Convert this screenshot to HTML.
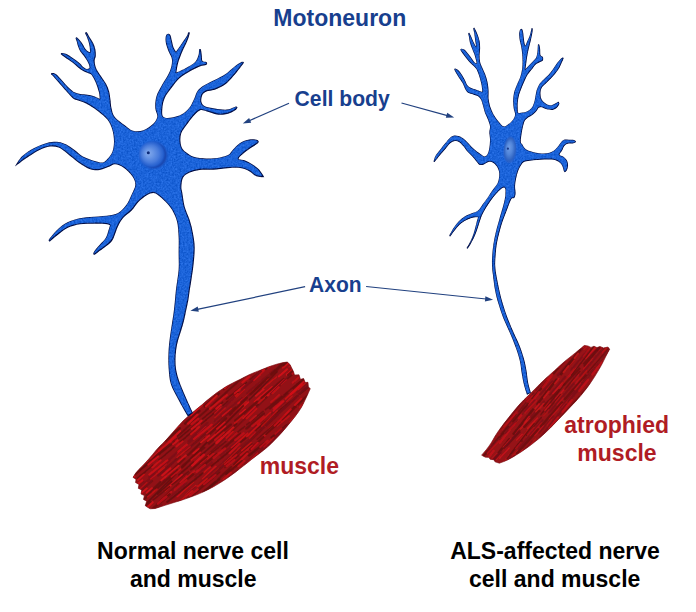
<!DOCTYPE html>
<html><head><meta charset="utf-8"><title>Motoneuron</title>
<style>html,body{margin:0;padding:0;background:#fff;}body{width:696px;height:612px;overflow:hidden;font-family:"Liberation Sans",sans-serif;}svg{display:block;}</style></head>
<body>
<svg width="696" height="612" viewBox="0 0 696 612" font-family="'Liberation Sans', sans-serif" font-weight="bold">
<defs>
<radialGradient id="nucD" cx="0.5" cy="0.5" r="0.5"><stop offset="0" stop-color="#1a4ab4"/><stop offset="0.78" stop-color="#1a4ab4"/><stop offset="1" stop-color="#1d60d4" stop-opacity="0"/></radialGradient>
<radialGradient id="nucL" cx="0.5" cy="0.5" r="0.5" fx="0.36" fy="0.46"><stop offset="0" stop-color="#86abee"/><stop offset="0.3" stop-color="#6a97e6"/><stop offset="0.65" stop-color="#467adb"/><stop offset="0.88" stop-color="#2a66d4" stop-opacity="0.85"/><stop offset="1" stop-color="#1d62d6" stop-opacity="0"/></radialGradient>
<radialGradient id="nucR" cx="0.5" cy="0.5" r="0.5" fx="0.4" fy="0.4"><stop offset="0" stop-color="#6f9ce6"/><stop offset="0.45" stop-color="#5286da"/><stop offset="0.82" stop-color="#2f63c2"/><stop offset="1" stop-color="#2a5fc6" stop-opacity="0.55"/></radialGradient>
<filter id="grain" x="-2%" y="-2%" width="104%" height="104%" color-interpolation-filters="sRGB"><feTurbulence type="fractalNoise" baseFrequency="0.55" numOctaves="3" seed="4" result="n"/><feColorMatrix in="n" type="matrix" values="1.6 0 0 0 -0.3  1.6 0 0 0 -0.3  1.6 0 0 0 -0.3  0 0 0 0 1" result="g"/><feComposite in="SourceGraphic" in2="g" operator="arithmetic" k1="0" k2="1" k3="0.13" k4="-0.065" result="m"/><feComposite in="m" in2="SourceGraphic" operator="in"/></filter>
<filter id="soft" x="-5%" y="-5%" width="110%" height="110%"><feGaussianBlur stdDeviation="0.55"/></filter>
</defs>
<rect width="696" height="612" fill="#ffffff"/>
<clipPath id="mcl"><path d="M133.0 477.3L135.7 473.1L139.0 469.2L142.6 465.7L146.1 462.0L149.4 458.3L152.7 454.4L155.9 450.5L159.3 446.8L162.8 443.2L166.4 439.6L169.8 435.8L173.1 432.0L176.4 428.2L179.7 424.4L183.2 420.8L186.9 417.4L190.7 414.0L194.6 410.8L198.5 407.6L202.4 404.4L206.2 401.1L210.1 397.9L214.1 394.8L218.1 391.8L222.3 389.0L226.6 386.3L231.0 383.9L235.5 381.6L240.1 379.4L244.5 377.1L249.0 374.8L253.7 372.8L258.4 370.9L263.1 369.1L267.7 367.2L272.5 365.5L277.3 364.0L282.2 362.8L287.2 362.0L290.0 364.5L293.3 371.2L294.6 375.0L299.0 374.8L300.4 379.3L303.6 378.6L305.3 382.5L308.0 382.3L308.3 387.0L310.3 388.6L308.2 393.3L306.0 398.0L303.8 402.8L301.4 407.4L298.6 411.7L295.5 415.9L292.3 420.0L289.0 424.0L285.7 428.0L282.3 431.9L278.8 435.8L275.2 439.5L271.6 443.2L267.8 446.8L263.8 450.1L259.7 453.3L255.5 456.4L251.4 459.6L247.4 462.8L243.3 466.0L239.2 469.2L235.1 472.4L230.9 475.5L226.7 478.5L222.3 481.4L218.0 484.1L213.5 486.7L208.9 489.2L204.2 491.5L199.5 493.6L194.7 495.5L189.8 497.3L184.9 499.1L180.0 500.7L175.0 502.2L170.0 503.8L165.1 505.3L160.1 506.9L155.2 508.5L150.0 508.8L145.3 505.8L146.6 501.2L143.6 499.5L144.3 495.5L141.0 494.0L141.8 490.0L138.3 488.3L139.0 484.5L135.5 482.5L136.0 479.5Z"/></clipPath>
<path d="M133.0 477.3L135.7 473.1L139.0 469.2L142.6 465.7L146.1 462.0L149.4 458.3L152.7 454.4L155.9 450.5L159.3 446.8L162.8 443.2L166.4 439.6L169.8 435.8L173.1 432.0L176.4 428.2L179.7 424.4L183.2 420.8L186.9 417.4L190.7 414.0L194.6 410.8L198.5 407.6L202.4 404.4L206.2 401.1L210.1 397.9L214.1 394.8L218.1 391.8L222.3 389.0L226.6 386.3L231.0 383.9L235.5 381.6L240.1 379.4L244.5 377.1L249.0 374.8L253.7 372.8L258.4 370.9L263.1 369.1L267.7 367.2L272.5 365.5L277.3 364.0L282.2 362.8L287.2 362.0L290.0 364.5L293.3 371.2L294.6 375.0L299.0 374.8L300.4 379.3L303.6 378.6L305.3 382.5L308.0 382.3L308.3 387.0L310.3 388.6L308.2 393.3L306.0 398.0L303.8 402.8L301.4 407.4L298.6 411.7L295.5 415.9L292.3 420.0L289.0 424.0L285.7 428.0L282.3 431.9L278.8 435.8L275.2 439.5L271.6 443.2L267.8 446.8L263.8 450.1L259.7 453.3L255.5 456.4L251.4 459.6L247.4 462.8L243.3 466.0L239.2 469.2L235.1 472.4L230.9 475.5L226.7 478.5L222.3 481.4L218.0 484.1L213.5 486.7L208.9 489.2L204.2 491.5L199.5 493.6L194.7 495.5L189.8 497.3L184.9 499.1L180.0 500.7L175.0 502.2L170.0 503.8L165.1 505.3L160.1 506.9L155.2 508.5L150.0 508.8L145.3 505.8L146.6 501.2L143.6 499.5L144.3 495.5L141.0 494.0L141.8 490.0L138.3 488.3L139.0 484.5L135.5 482.5L136.0 479.5Z" fill="#921116"/>
<g clip-path="url(#mcl)"><g fill="none" stroke-linecap="round" filter="url(#soft)">
<path d="M56.1 429.4 L227.9 264.4" stroke="#801216" stroke-width="1.8" opacity="0.9" stroke-dasharray="22 12" stroke-dashoffset="0"/>
<path d="M54.4 427.7 L230.8 267.6" stroke="#cc1115" stroke-width="2.3" stroke-dasharray="14 17 13 23" stroke-dashoffset="25" opacity="0.78"/>
<path d="M59.4 433.0 L229.4 266.2" stroke="#801216" stroke-width="2.4" opacity="0.9" stroke-dasharray="18 4" stroke-dashoffset="10"/>
<path d="M55.9 429.3 L234.7 271.9" stroke="#dc1418" stroke-width="2.1" stroke-dasharray="8 19 10 23" stroke-dashoffset="38" opacity="0.78"/>
<path d="M55.0 428.1 L239.2 277.1" stroke="#801216" stroke-width="2.5" opacity="0.9" stroke-dasharray="46 5" stroke-dashoffset="23"/>
<path d="M63.1 437.1 L232.9 270.1" stroke="#cc1115" stroke-width="1.3" stroke-dasharray="16 16 12 17" stroke-dashoffset="26" opacity="0.78"/>
<path d="M61.8 435.8 L236.6 274.0" stroke="#761014" stroke-width="2.1" opacity="0.9" stroke-dasharray="39 3" stroke-dashoffset="17"/>
<path d="M59.8 433.6 L240.1 277.9" stroke="#cc1115" stroke-width="2.4" stroke-dasharray="18 14 15 11" stroke-dashoffset="13" opacity="0.78"/>
<path d="M58.7 432.1 L244.9 283.5" stroke="#801216" stroke-width="1.5" opacity="0.9" stroke-dasharray="48 4" stroke-dashoffset="22"/>
<path d="M64.7 439.1 L240.0 277.8" stroke="#cc1115" stroke-width="2.2" stroke-dasharray="8 10 12 21" stroke-dashoffset="7" opacity="0.78"/>
<path d="M64.1 438.3 L243.3 281.5" stroke="#640e10" stroke-width="2.3" opacity="0.9" stroke-dasharray="35 11" stroke-dashoffset="15"/>
<path d="M67.9 442.6 L241.1 279.1" stroke="#d41216" stroke-width="2.4" stroke-dasharray="11 15 14 9" stroke-dashoffset="12" opacity="0.78"/>
<path d="M70.1 445.0 L243.0 281.2" stroke="#640e10" stroke-width="2.2" opacity="0.9" stroke-dasharray="38 8" stroke-dashoffset="8"/>
<path d="M70.1 445.0 L244.7 283.0" stroke="#c41216" stroke-width="2.3" stroke-dasharray="24 12 16 11" stroke-dashoffset="39" opacity="0.78"/>
<path d="M67.9 442.5 L250.9 290.0" stroke="#761014" stroke-width="2.2" opacity="0.9" stroke-dasharray="37 9" stroke-dashoffset="16"/>
<path d="M71.2 446.3 L249.2 288.0" stroke="#d41216" stroke-width="1.8" stroke-dasharray="21 15 11 8" stroke-dashoffset="24" opacity="0.78"/>
<path d="M71.9 447.1 L251.5 290.6" stroke="#801216" stroke-width="2.2" opacity="0.9" stroke-dasharray="40 8" stroke-dashoffset="38"/>
<path d="M71.7 446.8 L253.3 292.6" stroke="#d41216" stroke-width="2.0" stroke-dasharray="9 16 6 19" stroke-dashoffset="16" opacity="0.78"/>
<path d="M77.6 453.4 L250.7 289.7" stroke="#761014" stroke-width="1.6" opacity="0.9" stroke-dasharray="38 8" stroke-dashoffset="38"/>
<path d="M73.5 448.7 L256.0 295.7" stroke="#d41216" stroke-width="1.5" stroke-dasharray="8 15 16 12" stroke-dashoffset="19" opacity="0.78"/>
<path d="M76.0 451.6 L256.0 295.6" stroke="#801216" stroke-width="1.8" opacity="0.9" stroke-dasharray="24 4" stroke-dashoffset="38"/>
<path d="M79.8 455.8 L253.6 292.9" stroke="#cc1115" stroke-width="1.6" stroke-dasharray="22 18 8 10" stroke-dashoffset="21" opacity="0.78"/>
<path d="M82.5 458.7 L253.9 293.3" stroke="#6c0e12" stroke-width="1.7" opacity="0.9" stroke-dasharray="20 11" stroke-dashoffset="12"/>
<path d="M77.1 452.7 L260.5 300.7" stroke="#cc1115" stroke-width="1.6" stroke-dasharray="16 11 18 10" stroke-dashoffset="39" opacity="0.78"/>
<path d="M85.2 461.7 L254.8 294.4" stroke="#640e10" stroke-width="2.4" opacity="0.9" stroke-dasharray="47 8" stroke-dashoffset="40"/>
<path d="M83.2 459.6 L258.6 298.5" stroke="#c41216" stroke-width="1.7" stroke-dasharray="9 20 12 12" stroke-dashoffset="12" opacity="0.78"/>
<path d="M79.2 455.0 L264.6 305.4" stroke="#801216" stroke-width="2.6" opacity="0.9" stroke-dasharray="32 3" stroke-dashoffset="29"/>
<path d="M82.8 459.1 L262.9 303.3" stroke="#dc1418" stroke-width="2.2" stroke-dasharray="18 20 9 10" stroke-dashoffset="37" opacity="0.78"/>
<path d="M90.1 467.1 L259.5 299.7" stroke="#761014" stroke-width="1.4" opacity="0.9" stroke-dasharray="45 12" stroke-dashoffset="3"/>
<path d="M84.5 461.0 L266.2 307.0" stroke="#cc1115" stroke-width="1.2" stroke-dasharray="24 10 9 8" stroke-dashoffset="33" opacity="0.78"/>
<path d="M92.5 469.7 L260.5 300.9" stroke="#761014" stroke-width="1.5" opacity="0.9" stroke-dasharray="34 11" stroke-dashoffset="30"/>
<path d="M93.0 470.2 L261.2 301.6" stroke="#cc1115" stroke-width="2.2" stroke-dasharray="14 7 14 11" stroke-dashoffset="10" opacity="0.78"/>
<path d="M92.3 469.6 L264.8 305.4" stroke="#6c0e12" stroke-width="1.6" opacity="0.9" stroke-dasharray="49 12" stroke-dashoffset="25"/>
<path d="M92.9 470.3 L265.4 306.0" stroke="#dc1418" stroke-width="1.3" stroke-dasharray="24 14 12 9" stroke-dashoffset="30" opacity="0.78"/>
<path d="M88.6 465.5 L271.7 313.1" stroke="#6c0e12" stroke-width="2.3" opacity="0.9" stroke-dasharray="25 3" stroke-dashoffset="4"/>
<path d="M97.2 474.9 L264.8 305.6" stroke="#d41216" stroke-width="1.8" stroke-dasharray="24 14 13 18" stroke-dashoffset="10" opacity="0.78"/>
<path d="M95.2 473.0 L269.3 310.4" stroke="#640e10" stroke-width="2.1" opacity="0.9" stroke-dasharray="34 6" stroke-dashoffset="21"/>
<path d="M98.3 476.2 L267.9 308.9" stroke="#d41216" stroke-width="1.7" stroke-dasharray="20 18 7 13" stroke-dashoffset="2" opacity="0.78"/>
<path d="M94.9 472.5 L273.9 315.4" stroke="#6c0e12" stroke-width="1.9" opacity="0.9" stroke-dasharray="45 3" stroke-dashoffset="23"/>
<path d="M94.1 471.6 L276.0 317.9" stroke="#dc1418" stroke-width="2.0" stroke-dasharray="21 17 12 22" stroke-dashoffset="1" opacity="0.78"/>
<path d="M97.5 475.5 L275.2 316.9" stroke="#801216" stroke-width="1.5" opacity="0.9" stroke-dasharray="32 9" stroke-dashoffset="8"/>
<path d="M94.3 471.7 L279.6 322.0" stroke="#dc1418" stroke-width="2.3" stroke-dasharray="16 7 13 11" stroke-dashoffset="33" opacity="0.78"/>
<path d="M98.7 476.8 L278.9 321.1" stroke="#6c0e12" stroke-width="2.1" opacity="0.9" stroke-dasharray="18 10" stroke-dashoffset="9"/>
<path d="M102.2 480.7 L277.0 318.9" stroke="#d41216" stroke-width="1.5" stroke-dasharray="11 16 12 13" stroke-dashoffset="1" opacity="0.78"/>
<path d="M98.9 476.9 L282.6 325.3" stroke="#801216" stroke-width="1.5" opacity="0.9" stroke-dasharray="36 12" stroke-dashoffset="19"/>
<path d="M107.4 486.3 L275.1 317.1" stroke="#cc1115" stroke-width="2.2" stroke-dasharray="11 14 17 11" stroke-dashoffset="35" opacity="0.78"/>
<path d="M105.9 484.7 L279.4 321.6" stroke="#761014" stroke-width="2.4" opacity="0.9" stroke-dasharray="29 6" stroke-dashoffset="29"/>
<path d="M102.6 481.1 L284.4 327.2" stroke="#c41216" stroke-width="1.9" stroke-dasharray="16 11 15 20" stroke-dashoffset="22" opacity="0.78"/>
<path d="M102.2 480.4 L287.9 331.3" stroke="#801216" stroke-width="1.7" opacity="0.9" stroke-dasharray="28 9" stroke-dashoffset="36"/>
<path d="M105.5 484.3 L285.8 328.8" stroke="#c41216" stroke-width="2.1" stroke-dasharray="12 16 12 12" stroke-dashoffset="10" opacity="0.78"/>
<path d="M106.1 485.0 L287.9 331.1" stroke="#801216" stroke-width="2.0" opacity="0.9" stroke-dasharray="29 5" stroke-dashoffset="17"/>
<path d="M112.8 492.3 L282.7 325.4" stroke="#dc1418" stroke-width="2.1" stroke-dasharray="15 19 17 17" stroke-dashoffset="26" opacity="0.78"/>
<path d="M110.1 489.5 L288.7 331.9" stroke="#640e10" stroke-width="2.5" opacity="0.9" stroke-dasharray="19 7" stroke-dashoffset="30"/>
<path d="M114.8 494.6 L285.8 328.8" stroke="#dc1418" stroke-width="2.2" stroke-dasharray="15 11 13 12" stroke-dashoffset="26" opacity="0.78"/>
<path d="M114.0 493.8 L290.6 334.0" stroke="#6c0e12" stroke-width="2.0" opacity="0.9" stroke-dasharray="48 4" stroke-dashoffset="25"/>
<path d="M110.9 490.1 L295.1 339.2" stroke="#d41216" stroke-width="2.1" stroke-dasharray="22 20 9 15" stroke-dashoffset="4" opacity="0.78"/>
<path d="M113.0 492.6 L296.8 341.0" stroke="#640e10" stroke-width="1.6" opacity="0.9" stroke-dasharray="26 5" stroke-dashoffset="39"/>
<path d="M113.6 493.2 L297.4 341.7" stroke="#dc1418" stroke-width="2.0" stroke-dasharray="13 19 6 18" stroke-dashoffset="11" opacity="0.78"/>
<path d="M116.3 496.3 L297.7 342.0" stroke="#640e10" stroke-width="1.5" opacity="0.9" stroke-dasharray="20 8" stroke-dashoffset="28"/>
<path d="M117.4 497.5 L297.8 342.0" stroke="#d41216" stroke-width="1.9" stroke-dasharray="8 11 11 21" stroke-dashoffset="24" opacity="0.78"/>
<path d="M123.4 504.2 L294.7 338.6" stroke="#801216" stroke-width="2.5" opacity="0.9" stroke-dasharray="26 11" stroke-dashoffset="20"/>
<path d="M123.7 504.5 L296.3 340.3" stroke="#c41216" stroke-width="1.3" stroke-dasharray="11 13 14 16" stroke-dashoffset="6" opacity="0.78"/>
<path d="M120.8 501.3 L301.6 346.3" stroke="#801216" stroke-width="1.8" opacity="0.9" stroke-dasharray="36 7" stroke-dashoffset="6"/>
<path d="M119.0 499.1 L304.7 350.0" stroke="#d41216" stroke-width="2.1" stroke-dasharray="23 14 11 9" stroke-dashoffset="18" opacity="0.78"/>
<path d="M124.4 505.4 L302.7 347.5" stroke="#761014" stroke-width="2.2" opacity="0.9" stroke-dasharray="29 8" stroke-dashoffset="29"/>
<path d="M121.8 502.2 L307.0 352.4" stroke="#cc1115" stroke-width="1.3" stroke-dasharray="18 16 17 21" stroke-dashoffset="35" opacity="0.78"/>
<path d="M130.0 511.5 L300.8 345.5" stroke="#6c0e12" stroke-width="2.3" opacity="0.9" stroke-dasharray="24 5" stroke-dashoffset="35"/>
<path d="M125.5 506.5 L307.1 352.4" stroke="#dc1418" stroke-width="1.9" stroke-dasharray="11 10 10 20" stroke-dashoffset="3" opacity="0.78"/>
<path d="M134.1 515.9 L301.9 346.8" stroke="#640e10" stroke-width="1.7" opacity="0.9" stroke-dasharray="39 9" stroke-dashoffset="28"/>
<path d="M127.5 508.8 L309.7 355.3" stroke="#dc1418" stroke-width="1.8" stroke-dasharray="23 19 7 12" stroke-dashoffset="17" opacity="0.78"/>
<path d="M129.9 511.4 L310.4 356.0" stroke="#6c0e12" stroke-width="2.5" opacity="0.9" stroke-dasharray="29 6" stroke-dashoffset="36"/>
<path d="M130.2 511.8 L311.9 357.7" stroke="#cc1115" stroke-width="1.7" stroke-dasharray="12 19 12 14" stroke-dashoffset="34" opacity="0.78"/>
<path d="M133.3 515.3 L311.6 357.4" stroke="#640e10" stroke-width="1.7" opacity="0.9" stroke-dasharray="19 10" stroke-dashoffset="26"/>
<path d="M135.7 517.9 L310.4 356.1" stroke="#dc1418" stroke-width="2.3" stroke-dasharray="23 14 16 17" stroke-dashoffset="30" opacity="0.78"/>
<path d="M139.1 521.5 L309.9 355.6" stroke="#761014" stroke-width="1.5" opacity="0.9" stroke-dasharray="49 5" stroke-dashoffset="33"/>
<path d="M139.5 522.1 L310.6 356.3" stroke="#cc1115" stroke-width="2.0" stroke-dasharray="9 19 14 22" stroke-dashoffset="7" opacity="0.78"/>
<path d="M133.8 515.5 L319.4 366.3" stroke="#6c0e12" stroke-width="1.6" opacity="0.9" stroke-dasharray="21 3" stroke-dashoffset="23"/>
<path d="M138.6 521.2 L315.8 361.9" stroke="#c41216" stroke-width="1.9" stroke-dasharray="8 20 11 18" stroke-dashoffset="21" opacity="0.78"/>
<path d="M138.6 521.1 L319.3 365.9" stroke="#6c0e12" stroke-width="2.4" opacity="0.9" stroke-dasharray="23 8" stroke-dashoffset="13"/>
<path d="M137.9 520.2 L321.8 368.8" stroke="#c41216" stroke-width="2.3" stroke-dasharray="15 13 11 11" stroke-dashoffset="2" opacity="0.78"/>
<path d="M139.7 522.2 L323.3 370.4" stroke="#801216" stroke-width="1.9" opacity="0.9" stroke-dasharray="22 11" stroke-dashoffset="27"/>
<path d="M143.8 526.9 L320.6 367.3" stroke="#d41216" stroke-width="1.5" stroke-dasharray="22 13 18 20" stroke-dashoffset="28" opacity="0.78"/>
<path d="M140.9 523.5 L325.5 373.0" stroke="#640e10" stroke-width="1.8" opacity="0.9" stroke-dasharray="46 11" stroke-dashoffset="23"/>
<path d="M148.1 531.6 L319.7 366.4" stroke="#d41216" stroke-width="1.9" stroke-dasharray="14 10 18 19" stroke-dashoffset="9" opacity="0.78"/>
<path d="M146.8 530.2 L324.4 371.6" stroke="#801216" stroke-width="1.4" opacity="0.9" stroke-dasharray="50 5" stroke-dashoffset="40"/>
<path d="M151.5 535.3 L320.8 367.7" stroke="#cc1115" stroke-width="1.2" stroke-dasharray="22 13 8 9" stroke-dashoffset="1" opacity="0.78"/>
<path d="M150.5 534.3 L323.9 371.0" stroke="#761014" stroke-width="2.3" opacity="0.9" stroke-dasharray="43 3" stroke-dashoffset="25"/>
<path d="M145.7 528.8 L330.4 378.4" stroke="#cc1115" stroke-width="1.8" stroke-dasharray="15 7 12 23" stroke-dashoffset="12" opacity="0.78"/>
<path d="M149.6 533.3 L328.9 376.6" stroke="#6c0e12" stroke-width="1.5" opacity="0.9" stroke-dasharray="36 7" stroke-dashoffset="29"/>
<path d="M147.0 530.1 L332.7 381.0" stroke="#c41216" stroke-width="2.1" stroke-dasharray="15 14 10 8" stroke-dashoffset="21" opacity="0.78"/>
<path d="M154.5 538.8 L328.5 376.1" stroke="#6c0e12" stroke-width="2.2" opacity="0.9" stroke-dasharray="18 4" stroke-dashoffset="1"/>
<path d="M158.7 543.1 L326.0 373.6" stroke="#d41216" stroke-width="2.0" stroke-dasharray="23 6 9 24" stroke-dashoffset="21" opacity="0.78"/>
<path d="M150.7 534.3 L336.6 385.4" stroke="#640e10" stroke-width="2.4" opacity="0.9" stroke-dasharray="20 9" stroke-dashoffset="19"/>
<path d="M154.8 539.1 L334.3 382.6" stroke="#c41216" stroke-width="2.1" stroke-dasharray="10 10 8 21" stroke-dashoffset="7" opacity="0.78"/>
<path d="M157.2 541.8 L335.1 383.4" stroke="#801216" stroke-width="2.3" opacity="0.9" stroke-dasharray="29 9" stroke-dashoffset="35"/>
<path d="M161.6 546.6 L332.4 380.5" stroke="#c41216" stroke-width="1.6" stroke-dasharray="22 9 13 23" stroke-dashoffset="22" opacity="0.78"/>
<path d="M163.0 548.1 L333.4 381.7" stroke="#801216" stroke-width="2.1" opacity="0.9" stroke-dasharray="49 3" stroke-dashoffset="9"/>
<path d="M158.1 542.7 L339.9 388.8" stroke="#c41216" stroke-width="1.4" stroke-dasharray="10 18 17 11" stroke-dashoffset="20" opacity="0.78"/>
<path d="M158.3 542.8 L341.8 391.0" stroke="#6c0e12" stroke-width="2.5" opacity="0.9" stroke-dasharray="46 10" stroke-dashoffset="21"/>
<path d="M167.4 552.8 L334.4 383.0" stroke="#cc1115" stroke-width="2.4" stroke-dasharray="20 18 7 18" stroke-dashoffset="36" opacity="0.78"/>
<path d="M164.5 549.9 L340.6 389.5" stroke="#6c0e12" stroke-width="1.7" opacity="0.9" stroke-dasharray="27 5" stroke-dashoffset="37"/>
<path d="M168.5 554.2 L337.8 386.6" stroke="#dc1418" stroke-width="2.4" stroke-dasharray="14 9 14 24" stroke-dashoffset="26" opacity="0.78"/>
<path d="M162.5 547.5 L347.3 397.1" stroke="#761014" stroke-width="2.5" opacity="0.9" stroke-dasharray="47 5" stroke-dashoffset="39"/>
<path d="M164.2 549.4 L347.4 397.2" stroke="#d41216" stroke-width="1.3" stroke-dasharray="8 19 7 14" stroke-dashoffset="16" opacity="0.78"/>
<path d="M168.5 554.4 L344.9 394.3" stroke="#6c0e12" stroke-width="2.4" opacity="0.9" stroke-dasharray="49 8" stroke-dashoffset="25"/>
<path d="M169.6 555.6 L345.5 395.0" stroke="#d41216" stroke-width="1.9" stroke-dasharray="17 19 15 22" stroke-dashoffset="24" opacity="0.78"/>
<path d="M170.0 556.0 L347.8 397.5" stroke="#6c0e12" stroke-width="2.3" opacity="0.9" stroke-dasharray="39 8" stroke-dashoffset="12"/>
<path d="M175.5 561.9 L343.9 393.5" stroke="#dc1418" stroke-width="1.8" stroke-dasharray="21 18 16 10" stroke-dashoffset="38" opacity="0.78"/>
<path d="M175.1 561.6 L347.2 396.9" stroke="#761014" stroke-width="1.5" opacity="0.9" stroke-dasharray="45 10" stroke-dashoffset="5"/>
<path d="M174.9 561.5 L348.5 398.3" stroke="#cc1115" stroke-width="1.5" stroke-dasharray="14 19 17 22" stroke-dashoffset="34" opacity="0.78"/>
<path d="M176.0 562.7 L350.4 400.4" stroke="#801216" stroke-width="2.1" opacity="0.9" stroke-dasharray="48 9" stroke-dashoffset="30"/>
<path d="M171.5 557.5 L356.5 407.4" stroke="#dc1418" stroke-width="2.4" stroke-dasharray="8 8 7 8" stroke-dashoffset="9" opacity="0.78"/>
<path d="M176.9 563.7 L354.3 404.7" stroke="#761014" stroke-width="1.4" opacity="0.9" stroke-dasharray="35 10" stroke-dashoffset="27"/>
<path d="M177.9 564.8 L354.3 404.8" stroke="#cc1115" stroke-width="1.2" stroke-dasharray="17 8 7 22" stroke-dashoffset="19" opacity="0.78"/>
<path d="M179.6 566.7 L355.5 406.1" stroke="#640e10" stroke-width="2.0" opacity="0.9" stroke-dasharray="42 8" stroke-dashoffset="10"/>
<path d="M175.6 562.0 L360.9 412.4" stroke="#c41216" stroke-width="1.7" stroke-dasharray="24 14 9 19" stroke-dashoffset="18" opacity="0.78"/>
<path d="M181.4 568.7 L357.7 408.5" stroke="#640e10" stroke-width="2.4" opacity="0.9" stroke-dasharray="33 11" stroke-dashoffset="0"/>
<path d="M180.6 567.8 L360.1 411.2" stroke="#cc1115" stroke-width="1.2" stroke-dasharray="8 8 6 8" stroke-dashoffset="13" opacity="0.78"/>
<path d="M180.5 567.6 L363.1 414.7" stroke="#640e10" stroke-width="2.6" opacity="0.9" stroke-dasharray="20 10" stroke-dashoffset="11"/>
<path d="M186.5 574.3 L359.1 410.1" stroke="#dc1418" stroke-width="1.5" stroke-dasharray="9 15 14 11" stroke-dashoffset="28" opacity="0.78"/>
<path d="M187.9 575.8 L359.9 411.1" stroke="#640e10" stroke-width="1.9" opacity="0.9" stroke-dasharray="39 3" stroke-dashoffset="1"/>
<path d="M184.9 572.5 L364.3 415.9" stroke="#cc1115" stroke-width="1.7" stroke-dasharray="15 8 17 21" stroke-dashoffset="32" opacity="0.78"/>
<path d="M189.3 577.4 L363.1 414.5" stroke="#6c0e12" stroke-width="1.4" opacity="0.9" stroke-dasharray="19 10" stroke-dashoffset="3"/>
<path d="M184.3 571.7 L369.0 421.3" stroke="#c41216" stroke-width="2.3" stroke-dasharray="24 16 18 24" stroke-dashoffset="26" opacity="0.78"/>
<path d="M188.5 576.6 L368.1 420.1" stroke="#761014" stroke-width="1.5" opacity="0.9" stroke-dasharray="24 9" stroke-dashoffset="22"/>
<path d="M192.5 581.0 L365.2 416.9" stroke="#dc1418" stroke-width="1.7" stroke-dasharray="22 10 14 12" stroke-dashoffset="36" opacity="0.78"/>
<path d="M191.4 579.8 L368.8 420.9" stroke="#801216" stroke-width="2.4" opacity="0.9" stroke-dasharray="35 3" stroke-dashoffset="20"/>
<path d="M192.0 580.5 L370.0 422.2" stroke="#c41216" stroke-width="1.9" stroke-dasharray="12 10 18 16" stroke-dashoffset="6" opacity="0.78"/>
<path d="M198.2 587.1 L366.7 418.7" stroke="#801216" stroke-width="2.0" opacity="0.9" stroke-dasharray="30 7" stroke-dashoffset="22"/>
<path d="M195.8 584.7 L370.5 422.8" stroke="#c41216" stroke-width="1.4" stroke-dasharray="18 6 10 14" stroke-dashoffset="2" opacity="0.78"/>
<path d="M198.0 587.1 L371.4 423.8" stroke="#761014" stroke-width="1.7" opacity="0.9" stroke-dasharray="44 7" stroke-dashoffset="26"/>
<path d="M201.0 590.3 L369.6 422.0" stroke="#cc1115" stroke-width="2.4" stroke-dasharray="14 17 7 24" stroke-dashoffset="7" opacity="0.78"/>
<path d="M195.5 584.2 L379.0 432.3" stroke="#6c0e12" stroke-width="2.4" opacity="0.9" stroke-dasharray="36 4" stroke-dashoffset="27"/>
<path d="M199.8 589.1 L376.4 429.3" stroke="#dc1418" stroke-width="1.5" stroke-dasharray="17 14 14 9" stroke-dashoffset="11" opacity="0.78"/>
<path d="M196.4 585.1 L382.0 435.8" stroke="#761014" stroke-width="2.5" opacity="0.9" stroke-dasharray="47 9" stroke-dashoffset="0"/>
<path d="M206.1 595.8 L374.2 427.1" stroke="#cc1115" stroke-width="1.4" stroke-dasharray="17 9 16 12" stroke-dashoffset="9" opacity="0.78"/>
<path d="M198.2 587.0 L383.9 437.9" stroke="#6c0e12" stroke-width="1.9" opacity="0.9" stroke-dasharray="45 9" stroke-dashoffset="11"/>
<path d="M205.4 595.2 L378.1 431.2" stroke="#cc1115" stroke-width="2.4" stroke-dasharray="11 8 10 12" stroke-dashoffset="24" opacity="0.78"/>
<path d="M200.9 590.1 L385.8 439.9" stroke="#640e10" stroke-width="1.6" opacity="0.9" stroke-dasharray="27 10" stroke-dashoffset="15"/>
<path d="M205.0 594.9 L382.9 436.5" stroke="#c41216" stroke-width="1.3" stroke-dasharray="11 17 11 23" stroke-dashoffset="1" opacity="0.78"/>
<path d="M206.5 596.5 L384.1 437.8" stroke="#801216" stroke-width="1.9" opacity="0.9" stroke-dasharray="47 11" stroke-dashoffset="34"/>
<path d="M211.0 601.4 L381.0 434.6" stroke="#c41216" stroke-width="1.6" stroke-dasharray="20 9 18 17" stroke-dashoffset="11" opacity="0.78"/>
<path d="M205.3 595.0 L389.1 443.5" stroke="#761014" stroke-width="1.8" opacity="0.9" stroke-dasharray="26 3" stroke-dashoffset="38"/>
<path d="M210.2 600.7 L385.4 439.3" stroke="#cc1115" stroke-width="2.4" stroke-dasharray="11 15 6 13" stroke-dashoffset="7" opacity="0.78"/>
<path d="M206.6 596.4 L392.9 447.9" stroke="#640e10" stroke-width="2.0" opacity="0.9" stroke-dasharray="23 10" stroke-dashoffset="34"/>
<path d="M213.7 604.5 L387.3 441.4" stroke="#cc1115" stroke-width="1.9" stroke-dasharray="18 13 14 19" stroke-dashoffset="40" opacity="0.78"/>
</g></g>
<path d="M133.0 477.3L135.7 473.1L139.0 469.2L142.6 465.7L146.1 462.0L149.4 458.3L152.7 454.4L155.9 450.5L159.3 446.8L162.8 443.2L166.4 439.6L169.8 435.8L173.1 432.0L176.4 428.2L179.7 424.4L183.2 420.8L186.9 417.4L190.7 414.0L194.6 410.8L198.5 407.6L202.4 404.4L206.2 401.1L210.1 397.9L214.1 394.8L218.1 391.8L222.3 389.0L226.6 386.3L231.0 383.9L235.5 381.6L240.1 379.4L244.5 377.1L249.0 374.8L253.7 372.8L258.4 370.9L263.1 369.1L267.7 367.2L272.5 365.5L277.3 364.0L282.2 362.8L287.2 362.0L290.0 364.5L293.3 371.2L294.6 375.0L299.0 374.8L300.4 379.3L303.6 378.6L305.3 382.5L308.0 382.3L308.3 387.0L310.3 388.6L308.2 393.3L306.0 398.0L303.8 402.8L301.4 407.4L298.6 411.7L295.5 415.9L292.3 420.0L289.0 424.0L285.7 428.0L282.3 431.9L278.8 435.8L275.2 439.5L271.6 443.2L267.8 446.8L263.8 450.1L259.7 453.3L255.5 456.4L251.4 459.6L247.4 462.8L243.3 466.0L239.2 469.2L235.1 472.4L230.9 475.5L226.7 478.5L222.3 481.4L218.0 484.1L213.5 486.7L208.9 489.2L204.2 491.5L199.5 493.6L194.7 495.5L189.8 497.3L184.9 499.1L180.0 500.7L175.0 502.2L170.0 503.8L165.1 505.3L160.1 506.9L155.2 508.5L150.0 508.8L145.3 505.8L146.6 501.2L143.6 499.5L144.3 495.5L141.0 494.0L141.8 490.0L138.3 488.3L139.0 484.5L135.5 482.5L136.0 479.5Z" fill="none" stroke="#7a0e12" stroke-width="0.6"/>
<clipPath id="mcr"><path d="M481.6 455.2L484.1 452.2L486.6 449.3L488.9 446.2L491.1 443.0L493.1 439.6L495.0 436.3L497.1 433.0L499.3 429.8L501.6 426.7L503.9 423.6L506.3 420.6L508.7 417.6L511.1 414.5L513.5 411.5L516.0 408.5L518.5 405.6L521.1 402.7L523.8 399.9L526.6 397.2L529.4 394.6L532.1 391.8L534.9 389.1L537.6 386.3L540.3 383.6L543.1 380.9L545.9 378.2L548.8 375.7L551.7 373.1L554.6 370.5L557.4 367.9L560.3 365.3L563.2 362.7L566.2 360.2L569.2 357.8L572.2 355.4L575.2 353.0L578.2 350.5L581.2 348.1L584.2 345.6L588.0 346.0L591.0 347.4L594.0 346.2L597.0 347.6L600.0 346.4L603.5 348.0L608.0 347.0L609.6 349.3L607.6 352.9L605.7 356.6L603.9 360.3L602.0 364.0L600.0 367.7L597.9 371.3L595.8 374.8L593.6 378.3L591.3 381.7L588.9 385.2L586.5 388.5L583.9 391.7L581.3 395.0L578.6 398.1L575.9 401.2L573.0 404.2L570.1 407.2L567.3 410.2L564.5 413.2L561.6 416.3L558.7 419.3L555.9 422.2L553.0 425.2L550.1 428.2L547.1 431.1L544.1 433.9L541.0 436.7L537.9 439.4L534.7 442.0L531.4 444.6L528.1 447.0L524.7 449.4L521.3 451.8L517.8 454.0L514.3 456.2L510.7 458.3L507.0 460.2L503.2 461.8L499.3 463.2L495.0 461.8L494.0 459.8L490.0 459.2L489.0 457.3L485.5 457.3Z"/></clipPath>
<path d="M481.6 455.2L484.1 452.2L486.6 449.3L488.9 446.2L491.1 443.0L493.1 439.6L495.0 436.3L497.1 433.0L499.3 429.8L501.6 426.7L503.9 423.6L506.3 420.6L508.7 417.6L511.1 414.5L513.5 411.5L516.0 408.5L518.5 405.6L521.1 402.7L523.8 399.9L526.6 397.2L529.4 394.6L532.1 391.8L534.9 389.1L537.6 386.3L540.3 383.6L543.1 380.9L545.9 378.2L548.8 375.7L551.7 373.1L554.6 370.5L557.4 367.9L560.3 365.3L563.2 362.7L566.2 360.2L569.2 357.8L572.2 355.4L575.2 353.0L578.2 350.5L581.2 348.1L584.2 345.6L588.0 346.0L591.0 347.4L594.0 346.2L597.0 347.6L600.0 346.4L603.5 348.0L608.0 347.0L609.6 349.3L607.6 352.9L605.7 356.6L603.9 360.3L602.0 364.0L600.0 367.7L597.9 371.3L595.8 374.8L593.6 378.3L591.3 381.7L588.9 385.2L586.5 388.5L583.9 391.7L581.3 395.0L578.6 398.1L575.9 401.2L573.0 404.2L570.1 407.2L567.3 410.2L564.5 413.2L561.6 416.3L558.7 419.3L555.9 422.2L553.0 425.2L550.1 428.2L547.1 431.1L544.1 433.9L541.0 436.7L537.9 439.4L534.7 442.0L531.4 444.6L528.1 447.0L524.7 449.4L521.3 451.8L517.8 454.0L514.3 456.2L510.7 458.3L507.0 460.2L503.2 461.8L499.3 463.2L495.0 461.8L494.0 459.8L490.0 459.2L489.0 457.3L485.5 457.3Z" fill="#961317"/>
<g clip-path="url(#mcr)"><g fill="none" stroke-linecap="round" filter="url(#soft)">
<path d="M419.0 416.8 L532.9 275.1" stroke="#6e0f13" stroke-width="2.2" opacity="0.9" stroke-dasharray="24 8" stroke-dashoffset="37"/>
<path d="M418.4 416.3 L535.4 277.1" stroke="#c41318" stroke-width="1.3" stroke-dasharray="10 12 12 10" stroke-dashoffset="15" opacity="0.78"/>
<path d="M420.1 417.8 L535.7 277.4" stroke="#761115" stroke-width="1.5" opacity="0.9" stroke-dasharray="21 12" stroke-dashoffset="37"/>
<path d="M416.1 414.2 L540.9 282.0" stroke="#c41318" stroke-width="1.7" stroke-dasharray="12 10 12 12" stroke-dashoffset="34" opacity="0.78"/>
<path d="M423.0 420.2 L536.6 278.2" stroke="#761115" stroke-width="1.6" opacity="0.9" stroke-dasharray="41 4" stroke-dashoffset="35"/>
<path d="M421.5 418.9 L539.5 280.6" stroke="#bc1216" stroke-width="2.1" stroke-dasharray="23 16 14 21" stroke-dashoffset="20" opacity="0.78"/>
<path d="M420.3 417.8 L544.2 284.7" stroke="#761115" stroke-width="1.7" opacity="0.9" stroke-dasharray="33 4" stroke-dashoffset="36"/>
<path d="M424.6 421.5 L541.4 282.2" stroke="#cc161a" stroke-width="1.6" stroke-dasharray="22 10 15 10" stroke-dashoffset="7" opacity="0.78"/>
<path d="M428.9 425.1 L540.0 281.1" stroke="#7e1317" stroke-width="2.5" opacity="0.9" stroke-dasharray="20 4" stroke-dashoffset="35"/>
<path d="M424.0 420.9 L547.1 287.1" stroke="#cc161a" stroke-width="1.9" stroke-dasharray="18 17 11 23" stroke-dashoffset="37" opacity="0.78"/>
<path d="M432.8 428.2 L542.1 283.0" stroke="#6e0f13" stroke-width="1.7" opacity="0.9" stroke-dasharray="21 7" stroke-dashoffset="36"/>
<path d="M427.0 423.5 L549.3 288.9" stroke="#cc161a" stroke-width="2.4" stroke-dasharray="20 20 16 19" stroke-dashoffset="1" opacity="0.78"/>
<path d="M433.3 428.8 L547.7 287.5" stroke="#761115" stroke-width="2.0" opacity="0.9" stroke-dasharray="36 5" stroke-dashoffset="15"/>
<path d="M429.5 425.5 L553.3 292.3" stroke="#b41216" stroke-width="1.7" stroke-dasharray="10 8 13 20" stroke-dashoffset="35" opacity="0.78"/>
<path d="M437.5 432.2 L548.0 287.9" stroke="#7e1317" stroke-width="2.1" opacity="0.9" stroke-dasharray="40 9" stroke-dashoffset="14"/>
<path d="M438.0 432.7 L549.3 288.9" stroke="#bc1216" stroke-width="1.4" stroke-dasharray="15 6 13 13" stroke-dashoffset="16" opacity="0.78"/>
<path d="M439.5 433.9 L550.2 289.7" stroke="#660e11" stroke-width="2.1" opacity="0.9" stroke-dasharray="26 11" stroke-dashoffset="39"/>
<path d="M435.3 430.5 L556.2 294.7" stroke="#b41216" stroke-width="2.0" stroke-dasharray="20 12 12 20" stroke-dashoffset="6" opacity="0.78"/>
<path d="M439.9 434.4 L555.1 293.7" stroke="#7e1317" stroke-width="2.6" opacity="0.9" stroke-dasharray="28 4" stroke-dashoffset="21"/>
<path d="M443.6 437.3 L553.5 292.5" stroke="#bc1216" stroke-width="1.9" stroke-dasharray="11 11 15 8" stroke-dashoffset="4" opacity="0.78"/>
<path d="M441.2 435.4 L560.0 297.8" stroke="#660e11" stroke-width="1.7" opacity="0.9" stroke-dasharray="41 10" stroke-dashoffset="7"/>
<path d="M442.9 436.9 L559.6 297.5" stroke="#b41216" stroke-width="1.3" stroke-dasharray="23 13 10 10" stroke-dashoffset="9" opacity="0.78"/>
<path d="M445.2 438.8 L559.4 297.3" stroke="#761115" stroke-width="2.4" opacity="0.9" stroke-dasharray="19 6" stroke-dashoffset="33"/>
<path d="M443.3 437.2 L563.4 300.7" stroke="#c41318" stroke-width="1.6" stroke-dasharray="24 10 16 10" stroke-dashoffset="16" opacity="0.78"/>
<path d="M443.1 436.9 L566.7 303.6" stroke="#660e11" stroke-width="1.7" opacity="0.9" stroke-dasharray="32 12" stroke-dashoffset="12"/>
<path d="M444.5 438.1 L566.7 303.5" stroke="#bc1216" stroke-width="2.2" stroke-dasharray="14 14 13 19" stroke-dashoffset="1" opacity="0.78"/>
<path d="M447.0 440.2 L568.7 305.2" stroke="#660e11" stroke-width="1.6" opacity="0.9" stroke-dasharray="46 8" stroke-dashoffset="23"/>
<path d="M453.5 445.7 L563.5 300.9" stroke="#b41216" stroke-width="1.3" stroke-dasharray="14 11 9 23" stroke-dashoffset="39" opacity="0.78"/>
<path d="M450.9 443.6 L569.6 305.9" stroke="#660e11" stroke-width="2.5" opacity="0.9" stroke-dasharray="23 4" stroke-dashoffset="24"/>
<path d="M450.7 443.4 L571.8 307.8" stroke="#b41216" stroke-width="2.1" stroke-dasharray="13 12 18 18" stroke-dashoffset="5" opacity="0.78"/>
<path d="M451.0 443.5 L575.7 311.2" stroke="#6e0f13" stroke-width="1.9" opacity="0.9" stroke-dasharray="28 5" stroke-dashoffset="8"/>
<path d="M454.9 447.0 L573.3 309.0" stroke="#b41216" stroke-width="1.2" stroke-dasharray="12 15 15 23" stroke-dashoffset="22" opacity="0.78"/>
<path d="M456.3 448.2 L574.0 309.6" stroke="#6e0f13" stroke-width="2.4" opacity="0.9" stroke-dasharray="26 9" stroke-dashoffset="12"/>
<path d="M460.2 451.4 L572.1 308.0" stroke="#cc161a" stroke-width="2.2" stroke-dasharray="14 10 14 15" stroke-dashoffset="37" opacity="0.78"/>
<path d="M459.1 450.5 L576.7 311.8" stroke="#660e11" stroke-width="1.5" opacity="0.9" stroke-dasharray="47 12" stroke-dashoffset="33"/>
<path d="M456.6 448.3 L580.4 315.1" stroke="#bc1216" stroke-width="1.7" stroke-dasharray="12 14 14 8" stroke-dashoffset="28" opacity="0.78"/>
<path d="M461.0 452.0 L579.7 314.3" stroke="#761115" stroke-width="1.6" opacity="0.9" stroke-dasharray="48 12" stroke-dashoffset="7"/>
<path d="M464.0 454.6 L577.9 312.9" stroke="#b41216" stroke-width="1.9" stroke-dasharray="11 20 14 9" stroke-dashoffset="15" opacity="0.78"/>
<path d="M468.0 457.8 L576.9 312.2" stroke="#6e0f13" stroke-width="1.9" opacity="0.9" stroke-dasharray="22 10" stroke-dashoffset="20"/>
<path d="M464.8 455.2 L581.7 316.0" stroke="#bc1216" stroke-width="1.9" stroke-dasharray="16 13 14 23" stroke-dashoffset="32" opacity="0.78"/>
<path d="M465.2 455.6 L585.4 319.2" stroke="#660e11" stroke-width="2.5" opacity="0.9" stroke-dasharray="30 10" stroke-dashoffset="8"/>
<path d="M468.9 458.7 L583.9 317.9" stroke="#cc161a" stroke-width="1.7" stroke-dasharray="10 16 9 21" stroke-dashoffset="4" opacity="0.78"/>
<path d="M471.0 460.4 L584.5 318.4" stroke="#660e11" stroke-width="2.3" opacity="0.9" stroke-dasharray="27 7" stroke-dashoffset="8"/>
<path d="M472.7 461.8 L584.7 318.6" stroke="#c41318" stroke-width="2.4" stroke-dasharray="20 20 13 13" stroke-dashoffset="14" opacity="0.78"/>
<path d="M472.6 461.8 L588.3 321.6" stroke="#761115" stroke-width="1.8" opacity="0.9" stroke-dasharray="40 8" stroke-dashoffset="5"/>
<path d="M477.0 465.3 L585.5 319.4" stroke="#b41216" stroke-width="2.1" stroke-dasharray="22 17 6 20" stroke-dashoffset="21" opacity="0.78"/>
<path d="M476.3 464.9 L589.7 322.8" stroke="#761115" stroke-width="1.5" opacity="0.9" stroke-dasharray="24 4" stroke-dashoffset="16"/>
<path d="M471.8 461.0 L595.5 327.7" stroke="#bc1216" stroke-width="1.5" stroke-dasharray="16 18 8 21" stroke-dashoffset="16" opacity="0.78"/>
<path d="M476.3 464.9 L593.8 326.2" stroke="#660e11" stroke-width="2.0" opacity="0.9" stroke-dasharray="23 7" stroke-dashoffset="3"/>
<path d="M480.2 468.1 L591.6 324.4" stroke="#c41318" stroke-width="2.2" stroke-dasharray="16 6 16 10" stroke-dashoffset="16" opacity="0.78"/>
<path d="M476.0 464.6 L598.9 330.5" stroke="#7e1317" stroke-width="2.4" opacity="0.9" stroke-dasharray="18 8" stroke-dashoffset="35"/>
<path d="M476.6 465.0 L600.4 331.8" stroke="#bc1216" stroke-width="1.7" stroke-dasharray="9 14 17 15" stroke-dashoffset="7" opacity="0.78"/>
<path d="M484.0 471.4 L596.8 328.7" stroke="#660e11" stroke-width="2.5" opacity="0.9" stroke-dasharray="31 7" stroke-dashoffset="28"/>
<path d="M485.8 472.8 L597.1 329.0" stroke="#cc161a" stroke-width="1.8" stroke-dasharray="8 10 6 8" stroke-dashoffset="1" opacity="0.78"/>
<path d="M484.4 471.7 L602.2 333.2" stroke="#7e1317" stroke-width="2.0" opacity="0.9" stroke-dasharray="24 9" stroke-dashoffset="31"/>
<path d="M482.4 469.9 L605.8 336.4" stroke="#cc161a" stroke-width="1.9" stroke-dasharray="14 9 11 14" stroke-dashoffset="40" opacity="0.78"/>
<path d="M483.0 470.4 L608.0 338.3" stroke="#6e0f13" stroke-width="2.4" opacity="0.9" stroke-dasharray="22 7" stroke-dashoffset="27"/>
<path d="M491.7 477.7 L601.4 332.7" stroke="#b41216" stroke-width="1.4" stroke-dasharray="24 16 10 15" stroke-dashoffset="18" opacity="0.78"/>
<path d="M491.9 477.9 L603.3 334.2" stroke="#660e11" stroke-width="1.4" opacity="0.9" stroke-dasharray="39 11" stroke-dashoffset="20"/>
<path d="M485.9 472.8 L610.5 340.3" stroke="#cc161a" stroke-width="1.5" stroke-dasharray="14 11 8 8" stroke-dashoffset="21" opacity="0.78"/>
<path d="M491.3 477.5 L607.7 337.9" stroke="#6e0f13" stroke-width="1.6" opacity="0.9" stroke-dasharray="23 7" stroke-dashoffset="5"/>
<path d="M491.0 477.3 L609.4 339.3" stroke="#b41216" stroke-width="1.4" stroke-dasharray="8 10 10 15" stroke-dashoffset="5" opacity="0.78"/>
<path d="M493.0 478.9 L610.3 340.1" stroke="#7e1317" stroke-width="2.2" opacity="0.9" stroke-dasharray="38 10" stroke-dashoffset="9"/>
<path d="M493.1 479.0 L612.0 341.5" stroke="#bc1216" stroke-width="1.5" stroke-dasharray="9 19 17 24" stroke-dashoffset="40" opacity="0.78"/>
<path d="M493.9 479.6 L614.1 343.3" stroke="#6e0f13" stroke-width="2.5" opacity="0.9" stroke-dasharray="32 4" stroke-dashoffset="1"/>
<path d="M495.5 481.0 L614.7 343.7" stroke="#c41318" stroke-width="1.3" stroke-dasharray="20 19 13 9" stroke-dashoffset="40" opacity="0.78"/>
<path d="M497.3 482.5 L614.7 343.7" stroke="#7e1317" stroke-width="1.7" opacity="0.9" stroke-dasharray="22 11" stroke-dashoffset="34"/>
<path d="M498.1 483.2 L615.4 344.3" stroke="#b41216" stroke-width="1.3" stroke-dasharray="16 18 7 16" stroke-dashoffset="15" opacity="0.78"/>
<path d="M502.3 486.7 L614.1 343.3" stroke="#7e1317" stroke-width="2.6" opacity="0.9" stroke-dasharray="42 4" stroke-dashoffset="30"/>
<path d="M502.7 487.0 L615.9 344.8" stroke="#c41318" stroke-width="2.3" stroke-dasharray="14 7 15 12" stroke-dashoffset="21" opacity="0.78"/>
<path d="M500.6 485.3 L621.5 349.5" stroke="#6e0f13" stroke-width="2.1" opacity="0.9" stroke-dasharray="48 3" stroke-dashoffset="31"/>
<path d="M502.1 486.5 L621.8 349.7" stroke="#bc1216" stroke-width="1.5" stroke-dasharray="23 10 17 24" stroke-dashoffset="18" opacity="0.78"/>
<path d="M505.2 489.2 L621.5 349.4" stroke="#761115" stroke-width="2.5" opacity="0.9" stroke-dasharray="37 4" stroke-dashoffset="30"/>
<path d="M506.3 490.1 L622.5 350.3" stroke="#b41216" stroke-width="1.2" stroke-dasharray="16 12 9 14" stroke-dashoffset="4" opacity="0.78"/>
<path d="M510.4 493.5 L621.1 349.2" stroke="#761115" stroke-width="2.5" opacity="0.9" stroke-dasharray="50 7" stroke-dashoffset="7"/>
<path d="M510.7 493.7 L623.0 350.7" stroke="#b41216" stroke-width="2.0" stroke-dasharray="20 6 8 8" stroke-dashoffset="31" opacity="0.78"/>
<path d="M511.1 494.2 L626.4 353.5" stroke="#7e1317" stroke-width="1.9" opacity="0.9" stroke-dasharray="38 4" stroke-dashoffset="21"/>
<path d="M509.0 492.3 L630.1 356.7" stroke="#b41216" stroke-width="1.2" stroke-dasharray="11 20 9 8" stroke-dashoffset="18" opacity="0.78"/>
<path d="M516.0 498.1 L625.3 352.8" stroke="#6e0f13" stroke-width="2.4" opacity="0.9" stroke-dasharray="41 9" stroke-dashoffset="17"/>
<path d="M515.1 497.5 L628.2 355.1" stroke="#c41318" stroke-width="2.2" stroke-dasharray="17 16 8 15" stroke-dashoffset="17" opacity="0.78"/>
<path d="M516.7 498.8 L630.4 356.9" stroke="#7e1317" stroke-width="2.3" opacity="0.9" stroke-dasharray="19 9" stroke-dashoffset="35"/>
<path d="M514.2 496.7 L634.8 360.6" stroke="#c41318" stroke-width="1.9" stroke-dasharray="21 13 15 12" stroke-dashoffset="18" opacity="0.78"/>
<path d="M514.3 496.7 L638.1 363.5" stroke="#7e1317" stroke-width="1.6" opacity="0.9" stroke-dasharray="39 7" stroke-dashoffset="19"/>
<path d="M516.4 498.5 L637.3 362.7" stroke="#cc161a" stroke-width="1.5" stroke-dasharray="20 16 9 17" stroke-dashoffset="30" opacity="0.78"/>
<path d="M520.8 502.3 L635.9 361.5" stroke="#761115" stroke-width="1.6" opacity="0.9" stroke-dasharray="50 10" stroke-dashoffset="35"/>
<path d="M517.2 499.1 L640.9 365.8" stroke="#b41216" stroke-width="1.5" stroke-dasharray="21 8 14 14" stroke-dashoffset="15" opacity="0.78"/>
<path d="M523.1 504.2 L637.2 362.6" stroke="#660e11" stroke-width="1.7" opacity="0.9" stroke-dasharray="30 3" stroke-dashoffset="26"/>
<path d="M520.4 501.9 L641.4 366.1" stroke="#bc1216" stroke-width="1.7" stroke-dasharray="20 10 11 9" stroke-dashoffset="31" opacity="0.78"/>
<path d="M519.9 501.3 L644.6 369.0" stroke="#761115" stroke-width="2.0" opacity="0.9" stroke-dasharray="23 7" stroke-dashoffset="15"/>
<path d="M523.4 504.5 L642.8 367.3" stroke="#b41216" stroke-width="1.7" stroke-dasharray="17 19 6 12" stroke-dashoffset="2" opacity="0.78"/>
<path d="M523.9 504.8 L645.2 369.4" stroke="#7e1317" stroke-width="2.6" opacity="0.9" stroke-dasharray="18 4" stroke-dashoffset="25"/>
<path d="M523.7 504.5 L647.7 371.5" stroke="#b41216" stroke-width="2.3" stroke-dasharray="22 9 18 11" stroke-dashoffset="14" opacity="0.78"/>
<path d="M528.7 508.9 L646.0 370.0" stroke="#7e1317" stroke-width="2.5" opacity="0.9" stroke-dasharray="23 11" stroke-dashoffset="2"/>
<path d="M533.2 512.6 L643.6 368.1" stroke="#c41318" stroke-width="1.2" stroke-dasharray="17 8 16 16" stroke-dashoffset="33" opacity="0.78"/>
<path d="M529.7 509.7 L649.9 373.3" stroke="#761115" stroke-width="1.5" opacity="0.9" stroke-dasharray="42 7" stroke-dashoffset="14"/>
<path d="M536.3 515.1 L644.5 368.9" stroke="#cc161a" stroke-width="2.1" stroke-dasharray="22 10 11 15" stroke-dashoffset="30" opacity="0.78"/>
<path d="M533.5 512.9 L651.1 374.3" stroke="#660e11" stroke-width="1.9" opacity="0.9" stroke-dasharray="21 3" stroke-dashoffset="12"/>
<path d="M533.2 512.6 L653.0 375.9" stroke="#b41216" stroke-width="1.8" stroke-dasharray="10 10 9 21" stroke-dashoffset="23" opacity="0.78"/>
<path d="M540.2 518.3 L648.9 372.6" stroke="#7e1317" stroke-width="1.9" opacity="0.9" stroke-dasharray="30 3" stroke-dashoffset="18"/>
<path d="M536.9 515.7 L653.8 376.5" stroke="#bc1216" stroke-width="2.1" stroke-dasharray="23 9 10 14" stroke-dashoffset="14" opacity="0.78"/>
<path d="M540.7 518.9 L653.5 376.3" stroke="#7e1317" stroke-width="1.5" opacity="0.9" stroke-dasharray="29 6" stroke-dashoffset="31"/>
<path d="M537.9 516.6 L657.6 379.7" stroke="#bc1216" stroke-width="1.7" stroke-dasharray="20 6 9 8" stroke-dashoffset="38" opacity="0.78"/>
<path d="M544.5 522.0 L653.6 376.5" stroke="#660e11" stroke-width="1.9" opacity="0.9" stroke-dasharray="25 4" stroke-dashoffset="10"/>
<path d="M544.1 521.8 L655.6 378.1" stroke="#b41216" stroke-width="1.6" stroke-dasharray="9 10 16 20" stroke-dashoffset="23" opacity="0.78"/>
<path d="M543.8 521.6 L659.7 381.5" stroke="#6e0f13" stroke-width="1.5" opacity="0.9" stroke-dasharray="40 9" stroke-dashoffset="7"/>
<path d="M541.8 519.8 L663.0 384.3" stroke="#b41216" stroke-width="1.9" stroke-dasharray="19 18 10 21" stroke-dashoffset="5" opacity="0.78"/>
<path d="M545.5 523.0 L661.9 383.3" stroke="#761115" stroke-width="2.5" opacity="0.9" stroke-dasharray="38 8" stroke-dashoffset="30"/>
<path d="M547.1 524.3 L662.4 383.8" stroke="#b41216" stroke-width="1.2" stroke-dasharray="9 12 6 22" stroke-dashoffset="4" opacity="0.78"/>
<path d="M551.7 528.0 L660.9 382.7" stroke="#660e11" stroke-width="1.5" opacity="0.9" stroke-dasharray="41 7" stroke-dashoffset="21"/>
<path d="M547.5 524.7 L666.3 387.1" stroke="#cc161a" stroke-width="2.3" stroke-dasharray="18 20 10 17" stroke-dashoffset="0" opacity="0.78"/>
<path d="M549.8 526.6 L668.3 388.7" stroke="#6e0f13" stroke-width="2.5" opacity="0.9" stroke-dasharray="19 6" stroke-dashoffset="6"/>
<path d="M547.9 524.8 L672.4 392.3" stroke="#b41216" stroke-width="1.8" stroke-dasharray="16 20 12 23" stroke-dashoffset="8" opacity="0.78"/>
<path d="M556.4 532.0 L667.8 388.3" stroke="#761115" stroke-width="2.3" opacity="0.9" stroke-dasharray="33 8" stroke-dashoffset="20"/>
<path d="M552.2 528.6 L673.9 393.4" stroke="#c41318" stroke-width="1.8" stroke-dasharray="24 9 12 13" stroke-dashoffset="15" opacity="0.78"/>
<path d="M554.9 530.8 L674.3 393.7" stroke="#761115" stroke-width="2.1" opacity="0.9" stroke-dasharray="45 4" stroke-dashoffset="4"/>
<path d="M560.6 535.5 L670.3 390.5" stroke="#c41318" stroke-width="1.5" stroke-dasharray="21 13 17 22" stroke-dashoffset="11" opacity="0.78"/>
</g></g>
<path d="M481.6 455.2L484.1 452.2L486.6 449.3L488.9 446.2L491.1 443.0L493.1 439.6L495.0 436.3L497.1 433.0L499.3 429.8L501.6 426.7L503.9 423.6L506.3 420.6L508.7 417.6L511.1 414.5L513.5 411.5L516.0 408.5L518.5 405.6L521.1 402.7L523.8 399.9L526.6 397.2L529.4 394.6L532.1 391.8L534.9 389.1L537.6 386.3L540.3 383.6L543.1 380.9L545.9 378.2L548.8 375.7L551.7 373.1L554.6 370.5L557.4 367.9L560.3 365.3L563.2 362.7L566.2 360.2L569.2 357.8L572.2 355.4L575.2 353.0L578.2 350.5L581.2 348.1L584.2 345.6L588.0 346.0L591.0 347.4L594.0 346.2L597.0 347.6L600.0 346.4L603.5 348.0L608.0 347.0L609.6 349.3L607.6 352.9L605.7 356.6L603.9 360.3L602.0 364.0L600.0 367.7L597.9 371.3L595.8 374.8L593.6 378.3L591.3 381.7L588.9 385.2L586.5 388.5L583.9 391.7L581.3 395.0L578.6 398.1L575.9 401.2L573.0 404.2L570.1 407.2L567.3 410.2L564.5 413.2L561.6 416.3L558.7 419.3L555.9 422.2L553.0 425.2L550.1 428.2L547.1 431.1L544.1 433.9L541.0 436.7L537.9 439.4L534.7 442.0L531.4 444.6L528.1 447.0L524.7 449.4L521.3 451.8L517.8 454.0L514.3 456.2L510.7 458.3L507.0 460.2L503.2 461.8L499.3 463.2L495.0 461.8L494.0 459.8L490.0 459.2L489.0 457.3L485.5 457.3Z" fill="none" stroke="#7a0e12" stroke-width="0.6"/>
<mask id="mkL" maskUnits="userSpaceOnUse" x="0" y="0" width="696" height="612"><path d="M85.1 33.2C85.0 32.6 85.4 32.4 85.7 32.3C86.0 32.2 86.1 31.5 86.7 32.3C87.4 33.1 88.5 35.4 89.6 37.2C90.7 39.0 92.2 41.0 93.2 43.0C94.2 45.0 95.0 47.4 95.4 49.5C95.8 51.6 95.9 54.1 95.8 55.9C95.7 57.7 94.8 58.6 94.7 60.3C94.6 62.0 94.9 64.2 95.4 66.0C95.9 67.8 96.5 69.1 97.6 71.0C98.7 72.9 100.5 75.3 101.9 77.5C103.3 79.7 105.0 81.7 106.2 84.0C107.4 86.3 108.4 88.6 109.1 91.2C109.8 93.8 110.1 97.0 110.5 99.8C110.9 102.6 110.8 105.2 111.5 108.0C112.2 110.8 112.5 114.0 114.8 116.9C117.0 119.8 121.8 122.9 124.8 125.2C127.9 127.5 130.0 129.9 133.1 130.7C136.2 131.6 140.0 131.5 143.4 130.3C146.8 129.1 151.2 125.8 153.5 123.5C155.8 121.2 157.0 119.1 157.3 116.5C157.6 114.0 155.5 111.6 155.3 108.3C155.1 105.0 155.2 100.6 156.3 96.8C157.4 92.9 159.7 89.3 162.0 85.1C164.2 81.0 167.9 76.0 169.6 71.8C171.3 67.6 172.2 63.4 172.0 60.0C171.8 56.6 169.6 54.4 168.6 51.6C167.6 48.8 166.4 45.6 165.9 43.2C165.4 40.9 165.5 39.0 165.6 37.5C165.7 36.1 166.1 35.2 166.6 34.6C167.1 34.0 168.1 33.6 168.7 33.8C169.4 33.9 170.1 34.5 170.6 35.5C171.1 36.6 171.3 38.2 171.7 40.1C172.2 41.9 172.6 44.8 173.3 46.8C174.0 48.7 176.0 51.7 176.0 51.7C176.0 51.7 180.0 46.0 181.8 43.4C183.7 40.8 185.8 37.9 186.8 36.1C187.9 34.3 187.7 33.3 188.1 32.7C188.4 32.1 188.8 32.4 189.1 32.5C189.4 32.6 190.1 31.7 189.8 33.2C189.4 34.8 188.4 38.6 187.1 41.6C185.9 44.7 183.9 48.0 182.4 51.6C180.9 55.2 179.1 59.8 178.1 63.2C177.1 66.7 176.5 72.5 176.5 72.5C176.5 72.5 182.0 70.2 185.1 68.5C188.2 66.7 193.0 64.1 195.2 61.9C197.4 59.7 197.8 57.1 198.5 55.1C199.1 53.0 198.9 50.6 199.1 49.6C199.4 48.6 199.7 49.1 200.0 49.1C200.3 49.1 200.6 48.6 200.9 49.5C201.2 50.5 201.6 53.2 201.8 55.0C202.1 56.9 201.7 59.7 202.5 60.9C203.2 62.0 205.8 61.3 206.5 61.9C207.2 62.6 207.6 64.0 206.5 64.8C205.4 65.5 202.7 65.3 199.9 66.4C197.1 67.5 193.2 69.5 189.8 71.4C186.5 73.4 182.9 75.3 179.8 78.1C176.7 80.9 174.0 84.8 171.5 88.1C168.9 91.5 166.2 94.8 164.7 98.2C163.2 101.5 162.6 105.2 162.4 108.3C162.2 111.4 161.7 115.2 163.3 116.7C164.8 118.3 168.6 118.0 171.7 117.6C174.8 117.2 178.9 115.9 181.8 114.3C184.8 112.6 187.5 110.1 189.5 107.5C191.6 104.8 192.9 101.2 194.3 98.4C195.6 95.7 195.9 93.1 197.5 90.9C199.2 88.7 201.2 87.1 204.2 85.3C207.1 83.4 211.6 81.5 215.1 79.7C218.6 77.8 222.1 76.3 225.2 74.2C228.2 72.2 231.1 69.3 233.5 67.4C235.9 65.6 238.1 64.0 239.6 63.1C241.1 62.1 241.8 62.0 242.5 61.8C243.1 61.7 243.3 61.9 243.5 62.1C243.7 62.4 244.3 62.1 243.7 63.1C243.1 64.2 241.6 66.0 239.9 68.2C238.1 70.4 235.6 73.7 233.1 76.5C230.6 79.3 227.9 82.6 224.8 84.8C221.8 87.0 217.9 88.6 214.9 89.7C211.9 90.8 208.7 90.6 206.6 91.4C204.5 92.3 203.3 93.1 202.4 94.9C201.6 96.6 201.0 99.9 201.4 101.8C201.8 103.7 202.6 105.1 204.9 106.3C207.1 107.4 211.3 108.0 215.0 108.6C218.6 109.2 223.7 109.8 226.7 109.6C229.8 109.4 231.7 108.0 233.3 107.5C234.9 106.9 235.6 106.5 236.3 106.4C236.9 106.3 237.0 106.6 237.2 106.9C237.4 107.1 237.7 107.3 237.3 107.9C236.9 108.5 236.4 109.6 234.9 110.6C233.4 111.5 231.0 113.0 228.2 113.7C225.5 114.4 221.9 115.1 218.3 114.7C214.8 114.3 209.8 112.1 206.8 111.4C203.7 110.7 202.2 109.6 199.9 110.4C197.6 111.3 195.3 114.1 193.1 116.5C190.9 118.9 188.7 122.0 186.8 124.8C184.8 127.6 182.4 130.4 181.3 133.2C180.3 136.0 180.3 139.2 180.5 141.7C180.7 144.3 181.2 146.5 182.3 148.5C183.4 150.4 185.2 151.8 187.1 153.1C189.0 154.5 190.5 155.9 193.7 156.8C197.0 157.7 202.3 158.5 206.7 158.6C211.1 158.7 216.4 158.0 220.1 157.4C223.7 156.8 226.3 156.1 228.5 154.8C230.6 153.4 231.2 151.4 233.1 149.5C235.0 147.6 237.2 144.9 239.7 143.3C242.2 141.6 245.4 140.4 248.1 139.8C250.7 139.2 253.8 139.3 255.5 139.5C257.2 139.7 257.9 140.1 258.3 140.8C258.8 141.4 259.2 142.0 258.0 143.2C256.7 144.4 253.2 146.3 250.8 148.0C248.5 149.6 246.0 151.2 244.0 153.0C242.0 154.8 238.7 157.5 238.7 158.7C238.7 159.9 241.6 159.2 243.9 160.1C246.1 161.0 249.7 162.7 252.2 164.3C254.7 165.8 256.8 167.2 258.9 169.3C260.9 171.5 264.4 177.2 264.4 177.2C264.4 177.2 258.7 177.2 256.3 176.2C253.8 175.3 252.3 172.8 249.6 171.4C246.9 170.1 243.6 168.6 240.0 168.1C236.5 167.6 232.7 167.9 228.3 168.2C223.8 168.5 218.0 169.4 213.3 169.7C208.6 170.0 203.9 169.4 200.0 169.9C196.1 170.4 192.7 171.4 189.9 172.6C187.1 173.9 184.7 175.2 183.2 177.5C181.8 179.9 181.5 184.1 181.4 186.7C181.3 189.3 181.9 190.0 182.4 193.3C183.0 196.7 183.5 202.3 184.7 206.8C185.9 211.2 188.3 215.7 189.7 220.1C191.1 224.5 192.2 228.9 193.0 233.4C193.8 237.8 194.6 241.7 194.7 246.7C194.8 251.7 194.3 257.7 193.7 263.3C193.2 268.8 192.1 275.5 191.4 280.0C190.8 284.4 190.3 286.7 189.8 290.0C189.3 293.3 189.0 296.7 188.4 300.0C187.8 303.3 187.0 306.7 186.3 310.0C185.6 313.3 185.0 316.7 184.2 320.0C183.4 323.3 182.4 326.7 181.4 330.0C180.4 333.3 179.1 336.7 178.2 340.0C177.3 343.3 176.6 346.7 176.2 350.0C175.8 353.3 175.5 356.7 175.5 360.0C175.5 363.3 175.6 366.7 176.2 370.0C176.8 373.3 177.7 376.7 178.8 380.0C179.9 383.3 181.3 386.7 182.7 390.0C184.1 393.3 185.3 396.2 187.0 400.0C188.7 403.8 193.0 413.0 193.0 413.0C193.0 413.0 188.0 416.5 188.0 416.5C188.0 416.5 185.2 412.1 183.5 409.0C181.8 405.9 179.6 402.2 177.5 398.0C175.4 393.8 172.3 389.0 170.8 384.0C169.3 379.0 169.0 373.3 168.6 368.0C168.2 362.7 168.3 357.0 168.5 352.0C168.7 347.0 169.2 342.8 169.8 338.0C170.4 333.2 171.2 328.5 172.0 323.3C172.8 318.1 173.7 312.2 174.3 306.7C175.0 301.1 175.2 296.1 175.9 290.0C176.6 283.9 178.1 276.1 178.6 270.0C179.0 263.9 178.6 258.9 178.6 253.3C178.6 247.7 178.9 242.0 178.6 236.7C178.3 231.4 178.1 226.1 177.0 221.6C175.9 217.2 173.9 213.2 172.0 209.8C170.0 206.5 167.5 203.9 165.2 201.5C162.9 199.1 160.1 196.7 158.1 195.3C156.1 193.9 155.2 193.0 153.3 193.0C151.4 193.1 149.3 193.8 146.9 195.3C144.4 196.8 141.0 199.5 138.5 201.9C136.1 204.4 134.5 207.6 132.0 210.2C129.5 212.8 125.8 215.0 123.6 217.5C121.3 220.0 120.0 222.5 118.6 225.2C117.2 227.8 116.4 230.8 115.3 233.4C114.2 236.1 113.7 238.7 112.0 240.9C110.3 243.2 107.5 245.1 105.2 247.0C103.0 248.8 100.2 250.6 98.4 251.9C96.7 253.2 95.4 254.3 94.6 254.7C93.9 255.1 93.9 254.7 93.6 254.5C93.4 254.3 93.1 254.1 93.3 253.5C93.5 252.8 93.8 252.0 94.8 250.6C95.9 249.1 97.9 246.8 99.7 244.8C101.6 242.7 104.3 240.3 105.7 238.1C107.1 235.9 107.4 233.8 108.1 231.6C108.8 229.5 110.0 225.3 110.0 225.3C110.0 225.3 109.2 224.5 106.7 224.2C104.2 223.9 99.4 223.6 95.0 223.7C90.6 223.7 84.5 223.7 80.1 224.3C75.6 225.0 71.7 226.2 68.4 227.6C65.1 229.1 62.7 231.2 60.2 233.0C57.7 234.8 55.1 237.1 53.4 238.5C51.7 239.9 50.8 241.0 50.0 241.4C49.3 241.9 49.3 241.4 49.0 241.2C48.8 241.0 48.6 240.7 48.7 240.2C48.8 239.7 48.5 239.8 49.8 238.2C51.1 236.6 54.0 232.9 56.5 230.4C59.0 228.0 61.5 225.6 64.8 223.7C68.2 221.8 72.4 220.1 76.6 219.0C80.8 217.8 85.0 217.5 90.0 217.0C95.0 216.4 102.0 216.3 106.7 215.7C111.3 215.0 114.8 214.8 118.1 213.0C121.4 211.2 124.2 207.8 126.4 204.8C128.6 201.8 129.9 198.2 131.4 194.9C132.9 191.6 135.1 188.1 135.3 185.0C135.5 181.9 134.2 179.2 132.3 176.3C130.4 173.4 126.6 169.7 123.7 167.7C120.9 165.7 117.4 164.4 115.1 164.3C112.7 164.1 112.3 165.6 109.7 166.6C107.2 167.5 103.1 169.5 99.9 170.0C96.7 170.4 93.8 170.5 90.2 169.3C86.7 168.1 82.6 165.3 78.7 162.7C74.9 160.0 70.5 155.9 67.2 153.4C63.8 150.9 61.5 148.7 58.6 147.6C55.7 146.5 53.1 146.2 49.9 146.6C46.8 147.0 43.1 148.4 39.7 150.0C36.3 151.6 32.9 153.9 29.6 156.1C26.3 158.2 22.2 161.2 19.8 162.9C17.3 164.6 15.0 166.4 15.0 166.4C15.0 166.4 18.9 159.4 22.0 156.3C25.1 153.3 29.5 150.4 33.7 148.2C37.8 145.9 42.8 144.0 46.9 142.9C51.0 141.9 55.0 141.7 58.2 141.9C61.5 142.2 63.6 143.1 66.4 144.5C69.1 145.8 71.8 148.1 74.6 150.1C77.3 152.1 79.6 154.6 82.9 156.5C86.3 158.3 91.5 160.0 94.8 161.0C98.1 162.0 100.6 162.8 102.7 162.4C104.9 162.1 106.0 160.5 107.6 158.8C109.2 157.1 111.2 154.8 112.3 152.0C113.4 149.1 113.9 145.4 114.0 141.7C114.0 138.0 113.4 133.4 112.3 129.8C111.3 126.2 109.8 122.8 107.5 119.8C105.3 116.9 101.4 114.0 99.0 112.0C96.6 110.0 95.4 109.1 93.2 107.7C91.0 106.3 88.3 104.5 86.0 103.4C83.7 102.3 81.6 101.7 79.6 101.0C77.6 100.3 75.6 100.2 73.8 99.1C72.0 97.9 70.6 96.0 68.8 94.1C67.0 92.2 64.9 89.8 63.0 87.6C61.1 85.4 59.0 83.0 57.3 81.1C55.6 79.2 53.9 77.2 52.9 76.1C51.9 75.0 51.5 75.0 51.2 74.6C50.9 74.2 51.0 73.9 51.1 73.6C51.2 73.3 51.1 72.9 51.9 73.0C52.7 73.0 54.4 73.0 55.8 73.9C57.2 74.8 58.5 76.5 60.1 78.2C61.7 79.9 63.5 82.2 65.2 84.0C66.9 85.8 68.7 87.6 70.2 89.0C71.8 90.4 72.8 91.5 74.5 92.3C76.2 93.1 78.1 93.7 80.3 94.1C82.5 94.5 85.2 94.4 87.5 94.8C89.8 95.2 92.0 95.5 94.0 96.2C96.0 96.9 99.7 98.8 99.7 98.8C99.7 98.8 99.5 94.8 99.0 92.6C98.5 90.4 97.6 87.7 96.8 85.4C96.0 83.1 95.0 80.8 94.0 79.0C93.0 77.2 92.1 75.6 91.1 74.6C90.1 73.6 89.5 73.8 88.2 73.2C86.9 72.6 84.9 72.0 83.2 71.0C81.5 70.0 79.8 68.7 78.1 67.4C76.4 66.1 74.8 64.4 73.1 63.1C71.4 61.8 69.8 60.7 68.1 59.5C66.4 58.3 64.2 56.7 63.0 55.9C61.8 55.1 61.4 54.9 61.0 54.5C60.7 54.1 60.8 53.8 60.9 53.5C61.0 53.2 60.8 52.8 61.7 52.9C62.5 52.9 64.4 53.2 65.9 53.8C67.4 54.4 69.2 55.6 70.9 56.7C72.6 57.8 74.4 59.1 76.0 60.3C77.6 61.5 79.1 62.7 80.3 63.8C81.5 64.9 82.1 66.2 83.2 67.0C84.3 67.8 85.7 68.7 86.8 68.9C87.9 69.1 89.6 68.2 89.6 68.2C89.6 68.2 89.4 65.9 88.9 64.6C88.4 63.3 87.6 61.8 86.8 60.3C86.0 58.8 85.0 57.3 83.9 55.9C82.8 54.5 81.3 53.1 80.3 51.6C79.3 50.1 78.7 48.3 78.1 46.6C77.5 44.9 77.1 42.8 76.7 41.5C76.3 40.2 75.7 39.2 75.6 38.5C75.5 37.9 75.8 37.8 76.1 37.6C76.3 37.4 76.5 37.1 77.1 37.5C77.7 38.0 78.6 39.0 79.6 40.1C80.6 41.2 82.0 43.0 82.9 44.4C83.9 45.8 84.4 47.5 85.3 48.7C86.2 49.9 87.4 51.0 88.2 51.6C89.0 52.2 90.1 52.3 90.1 52.3C90.1 52.3 89.9 48.5 89.6 46.6C89.3 44.7 88.8 42.6 88.2 40.8C87.7 39.0 86.8 37.1 86.3 35.8C85.8 34.5 85.2 33.7 85.1 33.2Z" fill="#fff" stroke="#000" stroke-width="0.00" stroke-linejoin="round"/></mask>
<g mask="url(#mkL)">
<path d="M85.1 33.2C85.0 32.6 85.4 32.4 85.7 32.3C86.0 32.2 86.1 31.5 86.7 32.3C87.4 33.1 88.5 35.4 89.6 37.2C90.7 39.0 92.2 41.0 93.2 43.0C94.2 45.0 95.0 47.4 95.4 49.5C95.8 51.6 95.9 54.1 95.8 55.9C95.7 57.7 94.8 58.6 94.7 60.3C94.6 62.0 94.9 64.2 95.4 66.0C95.9 67.8 96.5 69.1 97.6 71.0C98.7 72.9 100.5 75.3 101.9 77.5C103.3 79.7 105.0 81.7 106.2 84.0C107.4 86.3 108.4 88.6 109.1 91.2C109.8 93.8 110.1 97.0 110.5 99.8C110.9 102.6 110.8 105.2 111.5 108.0C112.2 110.8 112.5 114.0 114.8 116.9C117.0 119.8 121.8 122.9 124.8 125.2C127.9 127.5 130.0 129.9 133.1 130.7C136.2 131.6 140.0 131.5 143.4 130.3C146.8 129.1 151.2 125.8 153.5 123.5C155.8 121.2 157.0 119.1 157.3 116.5C157.6 114.0 155.5 111.6 155.3 108.3C155.1 105.0 155.2 100.6 156.3 96.8C157.4 92.9 159.7 89.3 162.0 85.1C164.2 81.0 167.9 76.0 169.6 71.8C171.3 67.6 172.2 63.4 172.0 60.0C171.8 56.6 169.6 54.4 168.6 51.6C167.6 48.8 166.4 45.6 165.9 43.2C165.4 40.9 165.5 39.0 165.6 37.5C165.7 36.1 166.1 35.2 166.6 34.6C167.1 34.0 168.1 33.6 168.7 33.8C169.4 33.9 170.1 34.5 170.6 35.5C171.1 36.6 171.3 38.2 171.7 40.1C172.2 41.9 172.6 44.8 173.3 46.8C174.0 48.7 176.0 51.7 176.0 51.7C176.0 51.7 180.0 46.0 181.8 43.4C183.7 40.8 185.8 37.9 186.8 36.1C187.9 34.3 187.7 33.3 188.1 32.7C188.4 32.1 188.8 32.4 189.1 32.5C189.4 32.6 190.1 31.7 189.8 33.2C189.4 34.8 188.4 38.6 187.1 41.6C185.9 44.7 183.9 48.0 182.4 51.6C180.9 55.2 179.1 59.8 178.1 63.2C177.1 66.7 176.5 72.5 176.5 72.5C176.5 72.5 182.0 70.2 185.1 68.5C188.2 66.7 193.0 64.1 195.2 61.9C197.4 59.7 197.8 57.1 198.5 55.1C199.1 53.0 198.9 50.6 199.1 49.6C199.4 48.6 199.7 49.1 200.0 49.1C200.3 49.1 200.6 48.6 200.9 49.5C201.2 50.5 201.6 53.2 201.8 55.0C202.1 56.9 201.7 59.7 202.5 60.9C203.2 62.0 205.8 61.3 206.5 61.9C207.2 62.6 207.6 64.0 206.5 64.8C205.4 65.5 202.7 65.3 199.9 66.4C197.1 67.5 193.2 69.5 189.8 71.4C186.5 73.4 182.9 75.3 179.8 78.1C176.7 80.9 174.0 84.8 171.5 88.1C168.9 91.5 166.2 94.8 164.7 98.2C163.2 101.5 162.6 105.2 162.4 108.3C162.2 111.4 161.7 115.2 163.3 116.7C164.8 118.3 168.6 118.0 171.7 117.6C174.8 117.2 178.9 115.9 181.8 114.3C184.8 112.6 187.5 110.1 189.5 107.5C191.6 104.8 192.9 101.2 194.3 98.4C195.6 95.7 195.9 93.1 197.5 90.9C199.2 88.7 201.2 87.1 204.2 85.3C207.1 83.4 211.6 81.5 215.1 79.7C218.6 77.8 222.1 76.3 225.2 74.2C228.2 72.2 231.1 69.3 233.5 67.4C235.9 65.6 238.1 64.0 239.6 63.1C241.1 62.1 241.8 62.0 242.5 61.8C243.1 61.7 243.3 61.9 243.5 62.1C243.7 62.4 244.3 62.1 243.7 63.1C243.1 64.2 241.6 66.0 239.9 68.2C238.1 70.4 235.6 73.7 233.1 76.5C230.6 79.3 227.9 82.6 224.8 84.8C221.8 87.0 217.9 88.6 214.9 89.7C211.9 90.8 208.7 90.6 206.6 91.4C204.5 92.3 203.3 93.1 202.4 94.9C201.6 96.6 201.0 99.9 201.4 101.8C201.8 103.7 202.6 105.1 204.9 106.3C207.1 107.4 211.3 108.0 215.0 108.6C218.6 109.2 223.7 109.8 226.7 109.6C229.8 109.4 231.7 108.0 233.3 107.5C234.9 106.9 235.6 106.5 236.3 106.4C236.9 106.3 237.0 106.6 237.2 106.9C237.4 107.1 237.7 107.3 237.3 107.9C236.9 108.5 236.4 109.6 234.9 110.6C233.4 111.5 231.0 113.0 228.2 113.7C225.5 114.4 221.9 115.1 218.3 114.7C214.8 114.3 209.8 112.1 206.8 111.4C203.7 110.7 202.2 109.6 199.9 110.4C197.6 111.3 195.3 114.1 193.1 116.5C190.9 118.9 188.7 122.0 186.8 124.8C184.8 127.6 182.4 130.4 181.3 133.2C180.3 136.0 180.3 139.2 180.5 141.7C180.7 144.3 181.2 146.5 182.3 148.5C183.4 150.4 185.2 151.8 187.1 153.1C189.0 154.5 190.5 155.9 193.7 156.8C197.0 157.7 202.3 158.5 206.7 158.6C211.1 158.7 216.4 158.0 220.1 157.4C223.7 156.8 226.3 156.1 228.5 154.8C230.6 153.4 231.2 151.4 233.1 149.5C235.0 147.6 237.2 144.9 239.7 143.3C242.2 141.6 245.4 140.4 248.1 139.8C250.7 139.2 253.8 139.3 255.5 139.5C257.2 139.7 257.9 140.1 258.3 140.8C258.8 141.4 259.2 142.0 258.0 143.2C256.7 144.4 253.2 146.3 250.8 148.0C248.5 149.6 246.0 151.2 244.0 153.0C242.0 154.8 238.7 157.5 238.7 158.7C238.7 159.9 241.6 159.2 243.9 160.1C246.1 161.0 249.7 162.7 252.2 164.3C254.7 165.8 256.8 167.2 258.9 169.3C260.9 171.5 264.4 177.2 264.4 177.2C264.4 177.2 258.7 177.2 256.3 176.2C253.8 175.3 252.3 172.8 249.6 171.4C246.9 170.1 243.6 168.6 240.0 168.1C236.5 167.6 232.7 167.9 228.3 168.2C223.8 168.5 218.0 169.4 213.3 169.7C208.6 170.0 203.9 169.4 200.0 169.9C196.1 170.4 192.7 171.4 189.9 172.6C187.1 173.9 184.7 175.2 183.2 177.5C181.8 179.9 181.5 184.1 181.4 186.7C181.3 189.3 181.9 190.0 182.4 193.3C183.0 196.7 183.5 202.3 184.7 206.8C185.9 211.2 188.3 215.7 189.7 220.1C191.1 224.5 192.2 228.9 193.0 233.4C193.8 237.8 194.6 241.7 194.7 246.7C194.8 251.7 194.3 257.7 193.7 263.3C193.2 268.8 192.1 275.5 191.4 280.0C190.8 284.4 190.3 286.7 189.8 290.0C189.3 293.3 189.0 296.7 188.4 300.0C187.8 303.3 187.0 306.7 186.3 310.0C185.6 313.3 185.0 316.7 184.2 320.0C183.4 323.3 182.4 326.7 181.4 330.0C180.4 333.3 179.1 336.7 178.2 340.0C177.3 343.3 176.6 346.7 176.2 350.0C175.8 353.3 175.5 356.7 175.5 360.0C175.5 363.3 175.6 366.7 176.2 370.0C176.8 373.3 177.7 376.7 178.8 380.0C179.9 383.3 181.3 386.7 182.7 390.0C184.1 393.3 185.3 396.2 187.0 400.0C188.7 403.8 193.0 413.0 193.0 413.0C193.0 413.0 188.0 416.5 188.0 416.5C188.0 416.5 185.2 412.1 183.5 409.0C181.8 405.9 179.6 402.2 177.5 398.0C175.4 393.8 172.3 389.0 170.8 384.0C169.3 379.0 169.0 373.3 168.6 368.0C168.2 362.7 168.3 357.0 168.5 352.0C168.7 347.0 169.2 342.8 169.8 338.0C170.4 333.2 171.2 328.5 172.0 323.3C172.8 318.1 173.7 312.2 174.3 306.7C175.0 301.1 175.2 296.1 175.9 290.0C176.6 283.9 178.1 276.1 178.6 270.0C179.0 263.9 178.6 258.9 178.6 253.3C178.6 247.7 178.9 242.0 178.6 236.7C178.3 231.4 178.1 226.1 177.0 221.6C175.9 217.2 173.9 213.2 172.0 209.8C170.0 206.5 167.5 203.9 165.2 201.5C162.9 199.1 160.1 196.7 158.1 195.3C156.1 193.9 155.2 193.0 153.3 193.0C151.4 193.1 149.3 193.8 146.9 195.3C144.4 196.8 141.0 199.5 138.5 201.9C136.1 204.4 134.5 207.6 132.0 210.2C129.5 212.8 125.8 215.0 123.6 217.5C121.3 220.0 120.0 222.5 118.6 225.2C117.2 227.8 116.4 230.8 115.3 233.4C114.2 236.1 113.7 238.7 112.0 240.9C110.3 243.2 107.5 245.1 105.2 247.0C103.0 248.8 100.2 250.6 98.4 251.9C96.7 253.2 95.4 254.3 94.6 254.7C93.9 255.1 93.9 254.7 93.6 254.5C93.4 254.3 93.1 254.1 93.3 253.5C93.5 252.8 93.8 252.0 94.8 250.6C95.9 249.1 97.9 246.8 99.7 244.8C101.6 242.7 104.3 240.3 105.7 238.1C107.1 235.9 107.4 233.8 108.1 231.6C108.8 229.5 110.0 225.3 110.0 225.3C110.0 225.3 109.2 224.5 106.7 224.2C104.2 223.9 99.4 223.6 95.0 223.7C90.6 223.7 84.5 223.7 80.1 224.3C75.6 225.0 71.7 226.2 68.4 227.6C65.1 229.1 62.7 231.2 60.2 233.0C57.7 234.8 55.1 237.1 53.4 238.5C51.7 239.9 50.8 241.0 50.0 241.4C49.3 241.9 49.3 241.4 49.0 241.2C48.8 241.0 48.6 240.7 48.7 240.2C48.8 239.7 48.5 239.8 49.8 238.2C51.1 236.6 54.0 232.9 56.5 230.4C59.0 228.0 61.5 225.6 64.8 223.7C68.2 221.8 72.4 220.1 76.6 219.0C80.8 217.8 85.0 217.5 90.0 217.0C95.0 216.4 102.0 216.3 106.7 215.7C111.3 215.0 114.8 214.8 118.1 213.0C121.4 211.2 124.2 207.8 126.4 204.8C128.6 201.8 129.9 198.2 131.4 194.9C132.9 191.6 135.1 188.1 135.3 185.0C135.5 181.9 134.2 179.2 132.3 176.3C130.4 173.4 126.6 169.7 123.7 167.7C120.9 165.7 117.4 164.4 115.1 164.3C112.7 164.1 112.3 165.6 109.7 166.6C107.2 167.5 103.1 169.5 99.9 170.0C96.7 170.4 93.8 170.5 90.2 169.3C86.7 168.1 82.6 165.3 78.7 162.7C74.9 160.0 70.5 155.9 67.2 153.4C63.8 150.9 61.5 148.7 58.6 147.6C55.7 146.5 53.1 146.2 49.9 146.6C46.8 147.0 43.1 148.4 39.7 150.0C36.3 151.6 32.9 153.9 29.6 156.1C26.3 158.2 22.2 161.2 19.8 162.9C17.3 164.6 15.0 166.4 15.0 166.4C15.0 166.4 18.9 159.4 22.0 156.3C25.1 153.3 29.5 150.4 33.7 148.2C37.8 145.9 42.8 144.0 46.9 142.9C51.0 141.9 55.0 141.7 58.2 141.9C61.5 142.2 63.6 143.1 66.4 144.5C69.1 145.8 71.8 148.1 74.6 150.1C77.3 152.1 79.6 154.6 82.9 156.5C86.3 158.3 91.5 160.0 94.8 161.0C98.1 162.0 100.6 162.8 102.7 162.4C104.9 162.1 106.0 160.5 107.6 158.8C109.2 157.1 111.2 154.8 112.3 152.0C113.4 149.1 113.9 145.4 114.0 141.7C114.0 138.0 113.4 133.4 112.3 129.8C111.3 126.2 109.8 122.8 107.5 119.8C105.3 116.9 101.4 114.0 99.0 112.0C96.6 110.0 95.4 109.1 93.2 107.7C91.0 106.3 88.3 104.5 86.0 103.4C83.7 102.3 81.6 101.7 79.6 101.0C77.6 100.3 75.6 100.2 73.8 99.1C72.0 97.9 70.6 96.0 68.8 94.1C67.0 92.2 64.9 89.8 63.0 87.6C61.1 85.4 59.0 83.0 57.3 81.1C55.6 79.2 53.9 77.2 52.9 76.1C51.9 75.0 51.5 75.0 51.2 74.6C50.9 74.2 51.0 73.9 51.1 73.6C51.2 73.3 51.1 72.9 51.9 73.0C52.7 73.0 54.4 73.0 55.8 73.9C57.2 74.8 58.5 76.5 60.1 78.2C61.7 79.9 63.5 82.2 65.2 84.0C66.9 85.8 68.7 87.6 70.2 89.0C71.8 90.4 72.8 91.5 74.5 92.3C76.2 93.1 78.1 93.7 80.3 94.1C82.5 94.5 85.2 94.4 87.5 94.8C89.8 95.2 92.0 95.5 94.0 96.2C96.0 96.9 99.7 98.8 99.7 98.8C99.7 98.8 99.5 94.8 99.0 92.6C98.5 90.4 97.6 87.7 96.8 85.4C96.0 83.1 95.0 80.8 94.0 79.0C93.0 77.2 92.1 75.6 91.1 74.6C90.1 73.6 89.5 73.8 88.2 73.2C86.9 72.6 84.9 72.0 83.2 71.0C81.5 70.0 79.8 68.7 78.1 67.4C76.4 66.1 74.8 64.4 73.1 63.1C71.4 61.8 69.8 60.7 68.1 59.5C66.4 58.3 64.2 56.7 63.0 55.9C61.8 55.1 61.4 54.9 61.0 54.5C60.7 54.1 60.8 53.8 60.9 53.5C61.0 53.2 60.8 52.8 61.7 52.9C62.5 52.9 64.4 53.2 65.9 53.8C67.4 54.4 69.2 55.6 70.9 56.7C72.6 57.8 74.4 59.1 76.0 60.3C77.6 61.5 79.1 62.7 80.3 63.8C81.5 64.9 82.1 66.2 83.2 67.0C84.3 67.8 85.7 68.7 86.8 68.9C87.9 69.1 89.6 68.2 89.6 68.2C89.6 68.2 89.4 65.9 88.9 64.6C88.4 63.3 87.6 61.8 86.8 60.3C86.0 58.8 85.0 57.3 83.9 55.9C82.8 54.5 81.3 53.1 80.3 51.6C79.3 50.1 78.7 48.3 78.1 46.6C77.5 44.9 77.1 42.8 76.7 41.5C76.3 40.2 75.7 39.2 75.6 38.5C75.5 37.9 75.8 37.8 76.1 37.6C76.3 37.4 76.5 37.1 77.1 37.5C77.7 38.0 78.6 39.0 79.6 40.1C80.6 41.2 82.0 43.0 82.9 44.4C83.9 45.8 84.4 47.5 85.3 48.7C86.2 49.9 87.4 51.0 88.2 51.6C89.0 52.2 90.1 52.3 90.1 52.3C90.1 52.3 89.9 48.5 89.6 46.6C89.3 44.7 88.8 42.6 88.2 40.8C87.7 39.0 86.8 37.1 86.3 35.8C85.8 34.5 85.2 33.7 85.1 33.2Z" fill="#04124a"/>
<path d="M85.1 33.2C85.0 32.6 85.4 32.4 85.7 32.3C86.0 32.2 86.1 31.5 86.7 32.3C87.4 33.1 88.5 35.4 89.6 37.2C90.7 39.0 92.2 41.0 93.2 43.0C94.2 45.0 95.0 47.4 95.4 49.5C95.8 51.6 95.9 54.1 95.8 55.9C95.7 57.7 94.8 58.6 94.7 60.3C94.6 62.0 94.9 64.2 95.4 66.0C95.9 67.8 96.5 69.1 97.6 71.0C98.7 72.9 100.5 75.3 101.9 77.5C103.3 79.7 105.0 81.7 106.2 84.0C107.4 86.3 108.4 88.6 109.1 91.2C109.8 93.8 110.1 97.0 110.5 99.8C110.9 102.6 110.8 105.2 111.5 108.0C112.2 110.8 112.5 114.0 114.8 116.9C117.0 119.8 121.8 122.9 124.8 125.2C127.9 127.5 130.0 129.9 133.1 130.7C136.2 131.6 140.0 131.5 143.4 130.3C146.8 129.1 151.2 125.8 153.5 123.5C155.8 121.2 157.0 119.1 157.3 116.5C157.6 114.0 155.5 111.6 155.3 108.3C155.1 105.0 155.2 100.6 156.3 96.8C157.4 92.9 159.7 89.3 162.0 85.1C164.2 81.0 167.9 76.0 169.6 71.8C171.3 67.6 172.2 63.4 172.0 60.0C171.8 56.6 169.6 54.4 168.6 51.6C167.6 48.8 166.4 45.6 165.9 43.2C165.4 40.9 165.5 39.0 165.6 37.5C165.7 36.1 166.1 35.2 166.6 34.6C167.1 34.0 168.1 33.6 168.7 33.8C169.4 33.9 170.1 34.5 170.6 35.5C171.1 36.6 171.3 38.2 171.7 40.1C172.2 41.9 172.6 44.8 173.3 46.8C174.0 48.7 176.0 51.7 176.0 51.7C176.0 51.7 180.0 46.0 181.8 43.4C183.7 40.8 185.8 37.9 186.8 36.1C187.9 34.3 187.7 33.3 188.1 32.7C188.4 32.1 188.8 32.4 189.1 32.5C189.4 32.6 190.1 31.7 189.8 33.2C189.4 34.8 188.4 38.6 187.1 41.6C185.9 44.7 183.9 48.0 182.4 51.6C180.9 55.2 179.1 59.8 178.1 63.2C177.1 66.7 176.5 72.5 176.5 72.5C176.5 72.5 182.0 70.2 185.1 68.5C188.2 66.7 193.0 64.1 195.2 61.9C197.4 59.7 197.8 57.1 198.5 55.1C199.1 53.0 198.9 50.6 199.1 49.6C199.4 48.6 199.7 49.1 200.0 49.1C200.3 49.1 200.6 48.6 200.9 49.5C201.2 50.5 201.6 53.2 201.8 55.0C202.1 56.9 201.7 59.7 202.5 60.9C203.2 62.0 205.8 61.3 206.5 61.9C207.2 62.6 207.6 64.0 206.5 64.8C205.4 65.5 202.7 65.3 199.9 66.4C197.1 67.5 193.2 69.5 189.8 71.4C186.5 73.4 182.9 75.3 179.8 78.1C176.7 80.9 174.0 84.8 171.5 88.1C168.9 91.5 166.2 94.8 164.7 98.2C163.2 101.5 162.6 105.2 162.4 108.3C162.2 111.4 161.7 115.2 163.3 116.7C164.8 118.3 168.6 118.0 171.7 117.6C174.8 117.2 178.9 115.9 181.8 114.3C184.8 112.6 187.5 110.1 189.5 107.5C191.6 104.8 192.9 101.2 194.3 98.4C195.6 95.7 195.9 93.1 197.5 90.9C199.2 88.7 201.2 87.1 204.2 85.3C207.1 83.4 211.6 81.5 215.1 79.7C218.6 77.8 222.1 76.3 225.2 74.2C228.2 72.2 231.1 69.3 233.5 67.4C235.9 65.6 238.1 64.0 239.6 63.1C241.1 62.1 241.8 62.0 242.5 61.8C243.1 61.7 243.3 61.9 243.5 62.1C243.7 62.4 244.3 62.1 243.7 63.1C243.1 64.2 241.6 66.0 239.9 68.2C238.1 70.4 235.6 73.7 233.1 76.5C230.6 79.3 227.9 82.6 224.8 84.8C221.8 87.0 217.9 88.6 214.9 89.7C211.9 90.8 208.7 90.6 206.6 91.4C204.5 92.3 203.3 93.1 202.4 94.9C201.6 96.6 201.0 99.9 201.4 101.8C201.8 103.7 202.6 105.1 204.9 106.3C207.1 107.4 211.3 108.0 215.0 108.6C218.6 109.2 223.7 109.8 226.7 109.6C229.8 109.4 231.7 108.0 233.3 107.5C234.9 106.9 235.6 106.5 236.3 106.4C236.9 106.3 237.0 106.6 237.2 106.9C237.4 107.1 237.7 107.3 237.3 107.9C236.9 108.5 236.4 109.6 234.9 110.6C233.4 111.5 231.0 113.0 228.2 113.7C225.5 114.4 221.9 115.1 218.3 114.7C214.8 114.3 209.8 112.1 206.8 111.4C203.7 110.7 202.2 109.6 199.9 110.4C197.6 111.3 195.3 114.1 193.1 116.5C190.9 118.9 188.7 122.0 186.8 124.8C184.8 127.6 182.4 130.4 181.3 133.2C180.3 136.0 180.3 139.2 180.5 141.7C180.7 144.3 181.2 146.5 182.3 148.5C183.4 150.4 185.2 151.8 187.1 153.1C189.0 154.5 190.5 155.9 193.7 156.8C197.0 157.7 202.3 158.5 206.7 158.6C211.1 158.7 216.4 158.0 220.1 157.4C223.7 156.8 226.3 156.1 228.5 154.8C230.6 153.4 231.2 151.4 233.1 149.5C235.0 147.6 237.2 144.9 239.7 143.3C242.2 141.6 245.4 140.4 248.1 139.8C250.7 139.2 253.8 139.3 255.5 139.5C257.2 139.7 257.9 140.1 258.3 140.8C258.8 141.4 259.2 142.0 258.0 143.2C256.7 144.4 253.2 146.3 250.8 148.0C248.5 149.6 246.0 151.2 244.0 153.0C242.0 154.8 238.7 157.5 238.7 158.7C238.7 159.9 241.6 159.2 243.9 160.1C246.1 161.0 249.7 162.7 252.2 164.3C254.7 165.8 256.8 167.2 258.9 169.3C260.9 171.5 264.4 177.2 264.4 177.2C264.4 177.2 258.7 177.2 256.3 176.2C253.8 175.3 252.3 172.8 249.6 171.4C246.9 170.1 243.6 168.6 240.0 168.1C236.5 167.6 232.7 167.9 228.3 168.2C223.8 168.5 218.0 169.4 213.3 169.7C208.6 170.0 203.9 169.4 200.0 169.9C196.1 170.4 192.7 171.4 189.9 172.6C187.1 173.9 184.7 175.2 183.2 177.5C181.8 179.9 181.5 184.1 181.4 186.7C181.3 189.3 181.9 190.0 182.4 193.3C183.0 196.7 183.5 202.3 184.7 206.8C185.9 211.2 188.3 215.7 189.7 220.1C191.1 224.5 192.2 228.9 193.0 233.4C193.8 237.8 194.6 241.7 194.7 246.7C194.8 251.7 194.3 257.7 193.7 263.3C193.2 268.8 192.1 275.5 191.4 280.0C190.8 284.4 190.3 286.7 189.8 290.0C189.3 293.3 189.0 296.7 188.4 300.0C187.8 303.3 187.0 306.7 186.3 310.0C185.6 313.3 185.0 316.7 184.2 320.0C183.4 323.3 182.4 326.7 181.4 330.0C180.4 333.3 179.1 336.7 178.2 340.0C177.3 343.3 176.6 346.7 176.2 350.0C175.8 353.3 175.5 356.7 175.5 360.0C175.5 363.3 175.6 366.7 176.2 370.0C176.8 373.3 177.7 376.7 178.8 380.0C179.9 383.3 181.3 386.7 182.7 390.0C184.1 393.3 185.3 396.2 187.0 400.0C188.7 403.8 193.0 413.0 193.0 413.0C193.0 413.0 188.0 416.5 188.0 416.5C188.0 416.5 185.2 412.1 183.5 409.0C181.8 405.9 179.6 402.2 177.5 398.0C175.4 393.8 172.3 389.0 170.8 384.0C169.3 379.0 169.0 373.3 168.6 368.0C168.2 362.7 168.3 357.0 168.5 352.0C168.7 347.0 169.2 342.8 169.8 338.0C170.4 333.2 171.2 328.5 172.0 323.3C172.8 318.1 173.7 312.2 174.3 306.7C175.0 301.1 175.2 296.1 175.9 290.0C176.6 283.9 178.1 276.1 178.6 270.0C179.0 263.9 178.6 258.9 178.6 253.3C178.6 247.7 178.9 242.0 178.6 236.7C178.3 231.4 178.1 226.1 177.0 221.6C175.9 217.2 173.9 213.2 172.0 209.8C170.0 206.5 167.5 203.9 165.2 201.5C162.9 199.1 160.1 196.7 158.1 195.3C156.1 193.9 155.2 193.0 153.3 193.0C151.4 193.1 149.3 193.8 146.9 195.3C144.4 196.8 141.0 199.5 138.5 201.9C136.1 204.4 134.5 207.6 132.0 210.2C129.5 212.8 125.8 215.0 123.6 217.5C121.3 220.0 120.0 222.5 118.6 225.2C117.2 227.8 116.4 230.8 115.3 233.4C114.2 236.1 113.7 238.7 112.0 240.9C110.3 243.2 107.5 245.1 105.2 247.0C103.0 248.8 100.2 250.6 98.4 251.9C96.7 253.2 95.4 254.3 94.6 254.7C93.9 255.1 93.9 254.7 93.6 254.5C93.4 254.3 93.1 254.1 93.3 253.5C93.5 252.8 93.8 252.0 94.8 250.6C95.9 249.1 97.9 246.8 99.7 244.8C101.6 242.7 104.3 240.3 105.7 238.1C107.1 235.9 107.4 233.8 108.1 231.6C108.8 229.5 110.0 225.3 110.0 225.3C110.0 225.3 109.2 224.5 106.7 224.2C104.2 223.9 99.4 223.6 95.0 223.7C90.6 223.7 84.5 223.7 80.1 224.3C75.6 225.0 71.7 226.2 68.4 227.6C65.1 229.1 62.7 231.2 60.2 233.0C57.7 234.8 55.1 237.1 53.4 238.5C51.7 239.9 50.8 241.0 50.0 241.4C49.3 241.9 49.3 241.4 49.0 241.2C48.8 241.0 48.6 240.7 48.7 240.2C48.8 239.7 48.5 239.8 49.8 238.2C51.1 236.6 54.0 232.9 56.5 230.4C59.0 228.0 61.5 225.6 64.8 223.7C68.2 221.8 72.4 220.1 76.6 219.0C80.8 217.8 85.0 217.5 90.0 217.0C95.0 216.4 102.0 216.3 106.7 215.7C111.3 215.0 114.8 214.8 118.1 213.0C121.4 211.2 124.2 207.8 126.4 204.8C128.6 201.8 129.9 198.2 131.4 194.9C132.9 191.6 135.1 188.1 135.3 185.0C135.5 181.9 134.2 179.2 132.3 176.3C130.4 173.4 126.6 169.7 123.7 167.7C120.9 165.7 117.4 164.4 115.1 164.3C112.7 164.1 112.3 165.6 109.7 166.6C107.2 167.5 103.1 169.5 99.9 170.0C96.7 170.4 93.8 170.5 90.2 169.3C86.7 168.1 82.6 165.3 78.7 162.7C74.9 160.0 70.5 155.9 67.2 153.4C63.8 150.9 61.5 148.7 58.6 147.6C55.7 146.5 53.1 146.2 49.9 146.6C46.8 147.0 43.1 148.4 39.7 150.0C36.3 151.6 32.9 153.9 29.6 156.1C26.3 158.2 22.2 161.2 19.8 162.9C17.3 164.6 15.0 166.4 15.0 166.4C15.0 166.4 18.9 159.4 22.0 156.3C25.1 153.3 29.5 150.4 33.7 148.2C37.8 145.9 42.8 144.0 46.9 142.9C51.0 141.9 55.0 141.7 58.2 141.9C61.5 142.2 63.6 143.1 66.4 144.5C69.1 145.8 71.8 148.1 74.6 150.1C77.3 152.1 79.6 154.6 82.9 156.5C86.3 158.3 91.5 160.0 94.8 161.0C98.1 162.0 100.6 162.8 102.7 162.4C104.9 162.1 106.0 160.5 107.6 158.8C109.2 157.1 111.2 154.8 112.3 152.0C113.4 149.1 113.9 145.4 114.0 141.7C114.0 138.0 113.4 133.4 112.3 129.8C111.3 126.2 109.8 122.8 107.5 119.8C105.3 116.9 101.4 114.0 99.0 112.0C96.6 110.0 95.4 109.1 93.2 107.7C91.0 106.3 88.3 104.5 86.0 103.4C83.7 102.3 81.6 101.7 79.6 101.0C77.6 100.3 75.6 100.2 73.8 99.1C72.0 97.9 70.6 96.0 68.8 94.1C67.0 92.2 64.9 89.8 63.0 87.6C61.1 85.4 59.0 83.0 57.3 81.1C55.6 79.2 53.9 77.2 52.9 76.1C51.9 75.0 51.5 75.0 51.2 74.6C50.9 74.2 51.0 73.9 51.1 73.6C51.2 73.3 51.1 72.9 51.9 73.0C52.7 73.0 54.4 73.0 55.8 73.9C57.2 74.8 58.5 76.5 60.1 78.2C61.7 79.9 63.5 82.2 65.2 84.0C66.9 85.8 68.7 87.6 70.2 89.0C71.8 90.4 72.8 91.5 74.5 92.3C76.2 93.1 78.1 93.7 80.3 94.1C82.5 94.5 85.2 94.4 87.5 94.8C89.8 95.2 92.0 95.5 94.0 96.2C96.0 96.9 99.7 98.8 99.7 98.8C99.7 98.8 99.5 94.8 99.0 92.6C98.5 90.4 97.6 87.7 96.8 85.4C96.0 83.1 95.0 80.8 94.0 79.0C93.0 77.2 92.1 75.6 91.1 74.6C90.1 73.6 89.5 73.8 88.2 73.2C86.9 72.6 84.9 72.0 83.2 71.0C81.5 70.0 79.8 68.7 78.1 67.4C76.4 66.1 74.8 64.4 73.1 63.1C71.4 61.8 69.8 60.7 68.1 59.5C66.4 58.3 64.2 56.7 63.0 55.9C61.8 55.1 61.4 54.9 61.0 54.5C60.7 54.1 60.8 53.8 60.9 53.5C61.0 53.2 60.8 52.8 61.7 52.9C62.5 52.9 64.4 53.2 65.9 53.8C67.4 54.4 69.2 55.6 70.9 56.7C72.6 57.8 74.4 59.1 76.0 60.3C77.6 61.5 79.1 62.7 80.3 63.8C81.5 64.9 82.1 66.2 83.2 67.0C84.3 67.8 85.7 68.7 86.8 68.9C87.9 69.1 89.6 68.2 89.6 68.2C89.6 68.2 89.4 65.9 88.9 64.6C88.4 63.3 87.6 61.8 86.8 60.3C86.0 58.8 85.0 57.3 83.9 55.9C82.8 54.5 81.3 53.1 80.3 51.6C79.3 50.1 78.7 48.3 78.1 46.6C77.5 44.9 77.1 42.8 76.7 41.5C76.3 40.2 75.7 39.2 75.6 38.5C75.5 37.9 75.8 37.8 76.1 37.6C76.3 37.4 76.5 37.1 77.1 37.5C77.7 38.0 78.6 39.0 79.6 40.1C80.6 41.2 82.0 43.0 82.9 44.4C83.9 45.8 84.4 47.5 85.3 48.7C86.2 49.9 87.4 51.0 88.2 51.6C89.0 52.2 90.1 52.3 90.1 52.3C90.1 52.3 89.9 48.5 89.6 46.6C89.3 44.7 88.8 42.6 88.2 40.8C87.7 39.0 86.8 37.1 86.3 35.8C85.8 34.5 85.2 33.7 85.1 33.2Z" fill="#1b63d9" stroke="#04124a" stroke-width="1.80" stroke-linejoin="round" transform="translate(-0.20 -0.25)" filter="url(#grain)"/>
</g>
<circle cx="153.6" cy="155.2" r="15.6" fill="url(#nucD)"/>
<circle cx="151.6" cy="154.2" r="13.6" fill="url(#nucL)"/>
<circle cx="148.3" cy="152.8" r="1.5" fill="#0c2a78"/>
<mask id="mkR" maskUnits="userSpaceOnUse" x="0" y="0" width="696" height="612"><path d="M473.2 28.5C473.2 27.8 473.5 28.0 473.7 27.9C474.0 27.8 473.9 27.0 474.5 28.0C475.1 29.0 476.6 31.8 477.4 34.0C478.3 36.2 479.1 38.7 479.6 41.1C480.0 43.4 480.2 45.8 480.2 48.2C480.2 50.5 479.6 52.9 479.6 55.2C479.6 57.5 479.7 60.0 480.2 62.2C480.7 64.3 481.7 66.0 482.6 68.2C483.5 70.3 484.8 72.9 485.6 75.2C486.4 77.6 487.1 79.8 487.6 82.3C488.1 84.8 488.5 87.7 488.6 90.4C488.8 93.1 488.4 95.8 488.6 98.4C488.9 101.1 489.4 103.8 490.2 106.4C491.1 109.1 492.2 111.9 493.6 114.4C495.0 116.9 497.0 119.4 498.6 121.4C500.3 123.4 501.9 125.8 503.5 126.3C505.1 126.8 506.6 125.5 508.2 124.3C509.8 123.2 512.0 121.0 513.2 119.4C514.3 117.8 515.0 116.4 515.1 114.5C515.2 112.7 514.0 110.9 513.7 108.6C513.4 106.2 513.0 103.2 513.1 100.5C513.2 97.8 513.4 95.1 514.1 92.3C514.8 89.6 516.1 86.8 517.1 84.3C518.1 81.7 519.3 79.7 520.2 77.2C521.0 74.7 521.7 71.9 522.1 69.2C522.5 66.6 522.5 63.9 522.5 61.2C522.5 58.6 522.4 55.7 522.1 53.2C521.9 50.7 521.5 48.4 521.1 46.2C520.7 44.0 520.1 42.2 519.7 40.2C519.4 38.2 519.1 35.8 519.1 34.1C519.2 32.4 519.6 30.8 519.9 30.0C520.2 29.2 520.5 29.4 520.8 29.3C521.1 29.1 521.3 28.9 521.5 28.9C521.7 28.9 521.9 28.7 522.2 29.3C522.5 29.8 522.8 30.6 523.1 32.0C523.4 33.5 523.6 36.1 523.8 38.1C524.1 40.1 524.4 42.8 524.7 44.1C525.0 45.4 525.5 45.8 525.5 45.8C525.5 45.8 526.6 42.8 527.3 41.0C528.1 39.3 529.3 37.1 529.9 35.0C530.6 32.9 531.1 29.7 531.4 28.5C531.8 27.4 532.0 28.2 532.2 28.3C532.4 28.3 532.8 28.0 532.8 28.8C532.8 29.6 532.7 31.2 532.4 33.1C532.0 35.0 531.5 37.7 530.9 40.2C530.3 42.7 529.5 45.6 528.9 48.2C528.3 50.9 527.7 53.8 527.3 56.3C526.8 58.8 526.6 61.1 526.3 63.3C526.0 65.5 525.5 69.3 525.5 69.3C525.5 69.3 527.3 67.3 528.4 66.1C529.5 64.9 531.1 63.4 532.3 62.0C533.5 60.7 535.0 59.7 535.9 58.1C536.7 56.4 537.0 54.4 537.4 52.2C537.7 49.9 537.7 46.1 537.9 44.8C538.1 43.5 538.4 44.4 538.6 44.4C538.8 44.4 539.0 43.9 539.3 44.7C539.6 45.5 540.0 47.4 540.2 49.1C540.4 50.9 540.1 53.8 540.5 55.1C541.0 56.4 542.5 56.2 542.9 57.1C543.3 58.0 543.4 59.6 542.9 60.4C542.4 61.3 541.0 61.5 539.8 62.2C538.6 62.8 537.1 63.3 535.8 64.5C534.5 65.7 533.2 67.8 531.8 69.5C530.5 71.2 529.0 72.7 527.8 74.5C526.7 76.3 525.8 78.3 524.8 80.5C523.8 82.7 522.7 85.2 521.8 87.5C520.9 89.9 519.9 92.0 519.2 94.5C518.5 97.0 518.0 100.0 517.8 102.5C517.6 105.0 517.7 107.8 517.8 109.5C517.9 111.2 517.5 112.2 518.3 112.7C519.0 113.2 520.9 112.9 522.4 112.6C524.0 112.4 525.9 112.0 527.4 111.2C528.8 110.5 530.2 109.6 531.3 108.3C532.4 107.0 533.2 105.2 533.8 103.4C534.5 101.6 534.8 99.6 535.2 97.4C535.7 95.2 536.0 92.5 536.6 90.3C537.3 88.1 538.2 86.0 539.3 84.2C540.4 82.4 541.9 81.2 543.4 79.7C544.9 78.2 546.9 76.7 548.4 75.1C549.9 73.5 551.1 71.9 552.4 70.1C553.7 68.3 555.1 65.9 556.4 64.1C557.8 62.2 559.6 60.2 560.6 59.1C561.6 58.0 562.0 57.9 562.4 57.6C562.9 57.4 563.0 57.6 563.2 57.7C563.4 57.8 563.8 57.6 563.6 58.4C563.4 59.2 562.7 60.7 561.9 62.3C561.2 64.0 560.2 66.5 559.0 68.5C557.9 70.4 556.4 72.4 555.0 74.1C553.5 75.9 552.0 77.4 550.5 79.0C549.0 80.6 547.3 82.2 545.9 83.6C544.4 85.1 542.8 86.1 541.9 87.6C541.0 89.1 540.7 90.8 540.5 92.5C540.4 94.1 540.6 95.9 540.9 97.4C541.3 98.8 541.9 100.1 542.9 101.3C543.9 102.4 545.3 103.5 546.8 104.2C548.2 104.8 550.2 105.3 551.6 105.2C553.1 105.0 554.5 103.9 555.6 103.3C556.7 102.8 557.5 102.1 558.0 101.8C558.6 101.6 558.6 101.8 558.8 102.0C559.0 102.1 559.1 102.3 559.1 102.7C559.2 103.1 559.7 103.3 559.3 104.2C558.9 105.0 558.0 106.8 556.9 107.8C555.8 108.7 554.5 109.6 552.7 109.9C551.0 110.1 548.4 109.7 546.6 109.3C544.7 108.8 542.8 107.5 541.5 107.3C540.3 107.0 539.6 107.2 538.8 107.8C538.0 108.4 537.8 109.6 536.8 110.8C535.8 111.9 534.3 113.7 532.8 114.8C531.3 116.0 529.1 116.9 527.7 117.9C526.4 118.9 525.6 119.5 524.8 120.8C524.1 122.1 523.7 123.7 523.2 125.7C522.7 127.7 522.2 130.1 521.8 132.7C521.4 135.4 520.7 139.8 520.8 141.7C520.9 143.7 521.7 143.2 522.4 144.4C523.1 145.5 524.0 147.6 525.3 148.7C526.5 149.8 528.2 150.4 530.0 151.1C531.8 151.7 533.9 152.3 536.1 152.7C538.3 153.1 541.1 153.5 543.4 153.5C545.6 153.5 547.6 153.3 549.4 152.8C551.2 152.2 552.7 151.4 554.1 150.4C555.5 149.4 556.6 148.1 557.7 146.8C558.9 145.4 559.9 143.5 560.9 142.4C562.0 141.2 562.7 140.2 564.0 139.8C565.4 139.4 567.3 139.8 569.0 139.8C570.7 139.8 572.8 139.8 573.9 139.9C575.0 140.1 575.2 140.6 575.6 140.9C575.9 141.2 576.0 141.4 576.0 141.6C576.0 141.8 576.2 142.0 575.7 142.3C575.1 142.6 574.0 143.3 572.7 143.5C571.4 143.7 569.3 143.2 567.9 143.7C566.5 144.1 565.4 144.8 564.4 146.0C563.4 147.2 562.8 149.4 562.0 150.8C561.2 152.3 559.4 153.8 559.6 154.7C559.8 155.7 561.9 155.6 563.1 156.5C564.3 157.4 566.0 158.8 566.9 160.2C567.7 161.7 568.1 163.6 568.1 165.3C568.1 167.0 567.5 169.2 566.9 170.3C566.2 171.5 565.1 172.8 564.4 172.1C563.6 171.5 563.3 168.2 562.6 166.7C561.9 165.2 561.2 164.1 560.2 163.1C559.2 162.1 558.0 161.3 556.6 160.7C555.3 160.1 553.9 159.7 551.9 159.5C549.9 159.3 547.0 159.5 544.6 159.5C542.2 159.6 539.7 159.8 537.3 160.0C534.8 160.2 532.2 160.4 530.0 160.8C527.8 161.1 525.5 161.2 524.0 161.9C522.5 162.7 521.9 163.9 520.9 165.5C519.9 167.1 518.8 169.3 518.0 171.5C517.2 173.7 516.6 176.4 516.1 178.8C515.6 181.2 515.2 183.6 515.1 186.1C515.0 188.5 515.7 191.4 515.6 193.4C515.5 195.4 514.9 197.1 514.3 198.0C513.7 198.8 512.7 197.6 511.9 198.5C511.0 199.4 510.4 201.1 509.5 203.3C508.6 205.5 507.5 208.8 506.3 211.8C505.2 214.9 503.7 218.0 502.6 221.5C501.4 224.9 500.3 228.8 499.4 232.5C498.4 236.1 497.6 239.8 496.9 243.5C496.3 247.1 496.0 251.0 495.7 254.5C495.4 257.9 495.2 261.0 495.2 264.2C495.3 267.5 495.5 269.7 496.2 274.0C496.9 278.3 498.3 285.1 499.3 290.0C500.4 294.9 501.3 298.6 502.7 303.3C504.1 308.1 505.8 313.3 507.7 318.3C509.6 323.3 511.9 328.6 514.0 333.3C516.1 338.1 518.3 342.2 520.0 346.7C521.7 351.1 523.2 355.8 524.3 360.0C525.4 364.2 526.0 367.8 526.7 371.7C527.3 375.6 527.6 379.8 528.3 383.3C529.1 386.9 531.0 393.0 531.0 393.0C531.0 393.0 527.0 394.7 527.0 394.7C527.0 394.7 524.9 388.6 524.0 385.0C523.1 381.4 522.3 377.2 521.7 373.3C521.0 369.4 520.9 365.8 520.0 361.7C519.1 357.5 517.7 353.1 516.0 348.3C514.3 343.6 512.1 338.3 510.0 333.3C507.9 328.3 505.3 323.3 503.3 318.3C501.4 313.3 499.7 308.1 498.3 303.3C496.9 298.6 495.9 294.9 495.0 290.0C494.1 285.1 493.3 277.9 492.8 274.0C492.3 270.1 492.2 269.5 492.1 266.7C491.9 263.8 491.9 260.6 492.1 256.9C492.3 253.2 492.7 248.8 493.3 244.7C493.9 240.6 494.8 236.3 495.7 232.5C496.6 228.6 497.7 225.0 498.7 221.5C499.6 218.0 500.6 214.7 501.5 211.6C502.4 208.5 503.3 205.7 503.9 203.1C504.6 200.5 505.0 198.0 505.3 195.8C505.5 193.6 505.5 189.7 505.5 189.7C505.5 189.7 505.0 187.6 504.2 187.5C503.5 187.4 502.2 188.2 500.8 189.3C499.4 190.4 497.7 192.2 496.0 194.1C494.3 196.1 492.3 198.6 490.6 200.9C488.9 203.3 487.2 205.8 485.8 208.2C484.3 210.7 482.9 213.1 481.9 215.5C480.8 217.9 480.3 220.4 479.4 222.8C478.6 225.3 477.9 227.7 477.0 230.2C476.1 232.6 475.2 235.1 474.1 237.5C472.9 239.9 471.3 243.0 470.3 244.8C469.2 246.6 468.4 247.9 467.8 248.5C467.3 249.2 467.2 248.6 467.0 248.5C466.9 248.4 466.4 248.4 466.7 247.8C466.9 247.1 467.7 246.4 468.7 244.6C469.6 242.8 471.2 239.7 472.2 237.2C473.2 234.8 473.9 232.4 474.6 229.9C475.3 227.5 475.9 224.8 476.5 222.7C477.0 220.6 478.1 217.3 478.1 217.3C478.1 217.3 475.5 217.2 473.8 217.5C472.0 217.9 469.8 218.5 467.8 219.4C465.8 220.3 463.6 221.6 461.7 223.0C459.9 224.4 458.3 226.2 456.9 227.8C455.5 229.4 454.2 231.2 453.1 232.6C452.1 234.0 451.1 235.7 450.5 236.3C449.9 237.0 449.9 236.4 449.7 236.3C449.5 236.2 449.2 236.0 449.3 235.6C449.4 235.1 449.6 235.0 450.3 233.6C451.1 232.2 452.5 229.4 453.9 227.4C455.3 225.3 457.0 223.1 458.8 221.2C460.7 219.4 462.8 217.7 465.0 216.3C467.3 214.9 470.1 214.1 472.4 213.1C474.6 212.1 476.7 211.7 478.4 210.2C480.1 208.7 481.1 206.4 482.7 204.2C484.4 202.0 486.4 199.3 488.1 196.9C489.8 194.4 491.4 191.8 493.0 189.5C494.5 187.3 496.4 185.5 497.4 183.5C498.4 181.5 498.8 179.5 499.0 177.5C499.3 175.5 499.4 173.4 499.0 171.5C498.6 169.6 497.7 167.7 496.7 166.2C495.6 164.7 494.0 163.1 492.6 162.4C491.3 161.7 489.9 161.7 488.5 162.0C487.0 162.3 485.6 163.9 484.1 164.4C482.7 164.9 481.0 165.4 479.7 164.9C478.4 164.4 477.6 162.8 476.4 161.4C475.2 160.0 473.8 158.1 472.3 156.5C470.8 154.9 468.9 153.4 467.4 151.6C465.9 149.9 464.6 147.6 463.2 146.0C461.8 144.4 460.4 142.7 458.9 141.9C457.4 141.1 455.7 140.9 454.3 141.2C452.8 141.5 451.4 142.4 450.0 143.6C448.6 144.8 447.4 146.7 445.9 148.4C444.4 150.2 442.6 152.2 441.0 154.0C439.5 155.9 437.8 158.0 436.8 159.3C435.7 160.6 435.3 161.3 434.9 161.8C434.4 162.2 434.3 161.9 434.1 161.8C433.9 161.7 433.4 162.2 433.6 161.1C433.9 160.1 434.5 157.4 435.7 155.4C436.8 153.4 438.9 151.3 440.5 149.2C442.1 147.2 443.7 145.1 445.4 143.1C447.0 141.1 448.6 138.7 450.3 137.4C452.0 136.2 453.5 135.6 455.4 135.6C457.3 135.6 459.8 136.4 461.7 137.4C463.6 138.3 465.0 139.8 466.7 141.4C468.3 142.9 469.9 145.1 471.5 146.7C473.2 148.4 474.8 149.8 476.4 151.1C478.0 152.4 479.9 153.6 481.3 154.5C482.6 155.4 483.6 156.5 484.7 156.4C485.8 156.3 486.8 155.5 487.6 154.1C488.4 152.8 488.9 150.6 489.3 148.1C489.7 145.7 490.0 142.3 490.0 139.7C490.0 137.0 489.3 134.6 489.3 132.3C489.3 130.1 490.2 128.4 490.0 126.3C489.8 124.2 488.8 122.0 488.0 119.7C487.1 117.5 485.8 115.0 484.9 112.7C484.1 110.3 483.6 107.8 482.9 105.6C482.3 103.4 481.8 101.2 480.9 99.6C480.1 98.1 479.3 97.2 478.0 96.3C476.7 95.5 474.8 95.0 473.1 94.4C471.4 93.8 469.3 93.5 468.0 92.7C466.7 91.9 466.3 91.1 465.4 89.6C464.6 88.1 463.9 85.6 462.8 83.5C461.7 81.5 460.0 79.5 458.8 77.5C457.6 75.6 456.3 73.3 455.5 72.0C454.8 70.7 454.5 70.1 454.3 69.5C454.2 69.0 454.4 68.9 454.6 68.8C454.7 68.6 454.7 68.3 455.3 68.5C455.9 68.8 457.2 69.2 458.2 70.1C459.3 71.1 460.4 72.6 461.4 74.1C462.5 75.6 463.4 77.3 464.5 79.2C465.5 81.0 466.3 83.7 467.4 85.2C468.6 86.7 469.9 87.3 471.3 88.1C472.8 88.9 474.8 89.2 476.3 89.7C477.8 90.2 479.3 90.9 480.3 91.2C481.3 91.6 482.3 91.8 482.3 91.8C482.3 91.8 482.0 87.7 481.6 85.4C481.3 83.2 480.5 80.6 479.9 78.4C479.3 76.3 478.6 74.1 477.9 72.4C477.2 70.8 476.8 69.6 475.9 68.5C475.1 67.3 474.1 66.7 473.0 65.5C471.8 64.4 470.3 63.0 468.9 61.5C467.6 60.0 466.1 58.0 464.9 56.4C463.6 54.8 462.3 53.0 461.6 51.9C460.8 50.8 460.6 50.3 460.5 49.9C460.3 49.4 460.4 49.3 460.6 49.1C460.7 48.9 460.7 48.6 461.3 48.7C461.9 48.8 463.1 48.7 464.3 49.6C465.5 50.5 467.1 52.4 468.4 54.0C469.7 55.6 471.0 57.6 472.1 59.0C473.1 60.4 474.0 61.8 474.7 62.5C475.5 63.2 476.6 63.3 476.6 63.3C476.6 63.3 476.4 61.8 476.0 60.3C475.6 58.8 475.0 56.3 474.3 54.3C473.6 52.3 472.6 50.3 471.9 48.3C471.1 46.3 470.3 44.1 469.8 42.2C469.4 40.4 469.2 38.6 469.0 37.1C468.7 35.7 468.2 34.2 468.2 33.5C468.1 32.8 468.5 33.0 468.7 32.9C468.9 32.8 469.1 32.4 469.5 33.0C469.9 33.7 470.7 35.5 471.4 37.0C472.0 38.5 472.8 40.5 473.5 42.0C474.2 43.4 474.9 44.9 475.4 45.6C475.8 46.3 476.2 46.2 476.2 46.2C476.2 46.2 475.8 44.5 475.6 43.2C475.4 41.8 475.1 40.0 474.9 38.2C474.6 36.3 474.3 33.7 474.0 32.1C473.7 30.5 473.3 29.2 473.2 28.5Z" fill="#fff" stroke="#000" stroke-width="0.00" stroke-linejoin="round"/></mask>
<g mask="url(#mkR)">
<path d="M473.2 28.5C473.2 27.8 473.5 28.0 473.7 27.9C474.0 27.8 473.9 27.0 474.5 28.0C475.1 29.0 476.6 31.8 477.4 34.0C478.3 36.2 479.1 38.7 479.6 41.1C480.0 43.4 480.2 45.8 480.2 48.2C480.2 50.5 479.6 52.9 479.6 55.2C479.6 57.5 479.7 60.0 480.2 62.2C480.7 64.3 481.7 66.0 482.6 68.2C483.5 70.3 484.8 72.9 485.6 75.2C486.4 77.6 487.1 79.8 487.6 82.3C488.1 84.8 488.5 87.7 488.6 90.4C488.8 93.1 488.4 95.8 488.6 98.4C488.9 101.1 489.4 103.8 490.2 106.4C491.1 109.1 492.2 111.9 493.6 114.4C495.0 116.9 497.0 119.4 498.6 121.4C500.3 123.4 501.9 125.8 503.5 126.3C505.1 126.8 506.6 125.5 508.2 124.3C509.8 123.2 512.0 121.0 513.2 119.4C514.3 117.8 515.0 116.4 515.1 114.5C515.2 112.7 514.0 110.9 513.7 108.6C513.4 106.2 513.0 103.2 513.1 100.5C513.2 97.8 513.4 95.1 514.1 92.3C514.8 89.6 516.1 86.8 517.1 84.3C518.1 81.7 519.3 79.7 520.2 77.2C521.0 74.7 521.7 71.9 522.1 69.2C522.5 66.6 522.5 63.9 522.5 61.2C522.5 58.6 522.4 55.7 522.1 53.2C521.9 50.7 521.5 48.4 521.1 46.2C520.7 44.0 520.1 42.2 519.7 40.2C519.4 38.2 519.1 35.8 519.1 34.1C519.2 32.4 519.6 30.8 519.9 30.0C520.2 29.2 520.5 29.4 520.8 29.3C521.1 29.1 521.3 28.9 521.5 28.9C521.7 28.9 521.9 28.7 522.2 29.3C522.5 29.8 522.8 30.6 523.1 32.0C523.4 33.5 523.6 36.1 523.8 38.1C524.1 40.1 524.4 42.8 524.7 44.1C525.0 45.4 525.5 45.8 525.5 45.8C525.5 45.8 526.6 42.8 527.3 41.0C528.1 39.3 529.3 37.1 529.9 35.0C530.6 32.9 531.1 29.7 531.4 28.5C531.8 27.4 532.0 28.2 532.2 28.3C532.4 28.3 532.8 28.0 532.8 28.8C532.8 29.6 532.7 31.2 532.4 33.1C532.0 35.0 531.5 37.7 530.9 40.2C530.3 42.7 529.5 45.6 528.9 48.2C528.3 50.9 527.7 53.8 527.3 56.3C526.8 58.8 526.6 61.1 526.3 63.3C526.0 65.5 525.5 69.3 525.5 69.3C525.5 69.3 527.3 67.3 528.4 66.1C529.5 64.9 531.1 63.4 532.3 62.0C533.5 60.7 535.0 59.7 535.9 58.1C536.7 56.4 537.0 54.4 537.4 52.2C537.7 49.9 537.7 46.1 537.9 44.8C538.1 43.5 538.4 44.4 538.6 44.4C538.8 44.4 539.0 43.9 539.3 44.7C539.6 45.5 540.0 47.4 540.2 49.1C540.4 50.9 540.1 53.8 540.5 55.1C541.0 56.4 542.5 56.2 542.9 57.1C543.3 58.0 543.4 59.6 542.9 60.4C542.4 61.3 541.0 61.5 539.8 62.2C538.6 62.8 537.1 63.3 535.8 64.5C534.5 65.7 533.2 67.8 531.8 69.5C530.5 71.2 529.0 72.7 527.8 74.5C526.7 76.3 525.8 78.3 524.8 80.5C523.8 82.7 522.7 85.2 521.8 87.5C520.9 89.9 519.9 92.0 519.2 94.5C518.5 97.0 518.0 100.0 517.8 102.5C517.6 105.0 517.7 107.8 517.8 109.5C517.9 111.2 517.5 112.2 518.3 112.7C519.0 113.2 520.9 112.9 522.4 112.6C524.0 112.4 525.9 112.0 527.4 111.2C528.8 110.5 530.2 109.6 531.3 108.3C532.4 107.0 533.2 105.2 533.8 103.4C534.5 101.6 534.8 99.6 535.2 97.4C535.7 95.2 536.0 92.5 536.6 90.3C537.3 88.1 538.2 86.0 539.3 84.2C540.4 82.4 541.9 81.2 543.4 79.7C544.9 78.2 546.9 76.7 548.4 75.1C549.9 73.5 551.1 71.9 552.4 70.1C553.7 68.3 555.1 65.9 556.4 64.1C557.8 62.2 559.6 60.2 560.6 59.1C561.6 58.0 562.0 57.9 562.4 57.6C562.9 57.4 563.0 57.6 563.2 57.7C563.4 57.8 563.8 57.6 563.6 58.4C563.4 59.2 562.7 60.7 561.9 62.3C561.2 64.0 560.2 66.5 559.0 68.5C557.9 70.4 556.4 72.4 555.0 74.1C553.5 75.9 552.0 77.4 550.5 79.0C549.0 80.6 547.3 82.2 545.9 83.6C544.4 85.1 542.8 86.1 541.9 87.6C541.0 89.1 540.7 90.8 540.5 92.5C540.4 94.1 540.6 95.9 540.9 97.4C541.3 98.8 541.9 100.1 542.9 101.3C543.9 102.4 545.3 103.5 546.8 104.2C548.2 104.8 550.2 105.3 551.6 105.2C553.1 105.0 554.5 103.9 555.6 103.3C556.7 102.8 557.5 102.1 558.0 101.8C558.6 101.6 558.6 101.8 558.8 102.0C559.0 102.1 559.1 102.3 559.1 102.7C559.2 103.1 559.7 103.3 559.3 104.2C558.9 105.0 558.0 106.8 556.9 107.8C555.8 108.7 554.5 109.6 552.7 109.9C551.0 110.1 548.4 109.7 546.6 109.3C544.7 108.8 542.8 107.5 541.5 107.3C540.3 107.0 539.6 107.2 538.8 107.8C538.0 108.4 537.8 109.6 536.8 110.8C535.8 111.9 534.3 113.7 532.8 114.8C531.3 116.0 529.1 116.9 527.7 117.9C526.4 118.9 525.6 119.5 524.8 120.8C524.1 122.1 523.7 123.7 523.2 125.7C522.7 127.7 522.2 130.1 521.8 132.7C521.4 135.4 520.7 139.8 520.8 141.7C520.9 143.7 521.7 143.2 522.4 144.4C523.1 145.5 524.0 147.6 525.3 148.7C526.5 149.8 528.2 150.4 530.0 151.1C531.8 151.7 533.9 152.3 536.1 152.7C538.3 153.1 541.1 153.5 543.4 153.5C545.6 153.5 547.6 153.3 549.4 152.8C551.2 152.2 552.7 151.4 554.1 150.4C555.5 149.4 556.6 148.1 557.7 146.8C558.9 145.4 559.9 143.5 560.9 142.4C562.0 141.2 562.7 140.2 564.0 139.8C565.4 139.4 567.3 139.8 569.0 139.8C570.7 139.8 572.8 139.8 573.9 139.9C575.0 140.1 575.2 140.6 575.6 140.9C575.9 141.2 576.0 141.4 576.0 141.6C576.0 141.8 576.2 142.0 575.7 142.3C575.1 142.6 574.0 143.3 572.7 143.5C571.4 143.7 569.3 143.2 567.9 143.7C566.5 144.1 565.4 144.8 564.4 146.0C563.4 147.2 562.8 149.4 562.0 150.8C561.2 152.3 559.4 153.8 559.6 154.7C559.8 155.7 561.9 155.6 563.1 156.5C564.3 157.4 566.0 158.8 566.9 160.2C567.7 161.7 568.1 163.6 568.1 165.3C568.1 167.0 567.5 169.2 566.9 170.3C566.2 171.5 565.1 172.8 564.4 172.1C563.6 171.5 563.3 168.2 562.6 166.7C561.9 165.2 561.2 164.1 560.2 163.1C559.2 162.1 558.0 161.3 556.6 160.7C555.3 160.1 553.9 159.7 551.9 159.5C549.9 159.3 547.0 159.5 544.6 159.5C542.2 159.6 539.7 159.8 537.3 160.0C534.8 160.2 532.2 160.4 530.0 160.8C527.8 161.1 525.5 161.2 524.0 161.9C522.5 162.7 521.9 163.9 520.9 165.5C519.9 167.1 518.8 169.3 518.0 171.5C517.2 173.7 516.6 176.4 516.1 178.8C515.6 181.2 515.2 183.6 515.1 186.1C515.0 188.5 515.7 191.4 515.6 193.4C515.5 195.4 514.9 197.1 514.3 198.0C513.7 198.8 512.7 197.6 511.9 198.5C511.0 199.4 510.4 201.1 509.5 203.3C508.6 205.5 507.5 208.8 506.3 211.8C505.2 214.9 503.7 218.0 502.6 221.5C501.4 224.9 500.3 228.8 499.4 232.5C498.4 236.1 497.6 239.8 496.9 243.5C496.3 247.1 496.0 251.0 495.7 254.5C495.4 257.9 495.2 261.0 495.2 264.2C495.3 267.5 495.5 269.7 496.2 274.0C496.9 278.3 498.3 285.1 499.3 290.0C500.4 294.9 501.3 298.6 502.7 303.3C504.1 308.1 505.8 313.3 507.7 318.3C509.6 323.3 511.9 328.6 514.0 333.3C516.1 338.1 518.3 342.2 520.0 346.7C521.7 351.1 523.2 355.8 524.3 360.0C525.4 364.2 526.0 367.8 526.7 371.7C527.3 375.6 527.6 379.8 528.3 383.3C529.1 386.9 531.0 393.0 531.0 393.0C531.0 393.0 527.0 394.7 527.0 394.7C527.0 394.7 524.9 388.6 524.0 385.0C523.1 381.4 522.3 377.2 521.7 373.3C521.0 369.4 520.9 365.8 520.0 361.7C519.1 357.5 517.7 353.1 516.0 348.3C514.3 343.6 512.1 338.3 510.0 333.3C507.9 328.3 505.3 323.3 503.3 318.3C501.4 313.3 499.7 308.1 498.3 303.3C496.9 298.6 495.9 294.9 495.0 290.0C494.1 285.1 493.3 277.9 492.8 274.0C492.3 270.1 492.2 269.5 492.1 266.7C491.9 263.8 491.9 260.6 492.1 256.9C492.3 253.2 492.7 248.8 493.3 244.7C493.9 240.6 494.8 236.3 495.7 232.5C496.6 228.6 497.7 225.0 498.7 221.5C499.6 218.0 500.6 214.7 501.5 211.6C502.4 208.5 503.3 205.7 503.9 203.1C504.6 200.5 505.0 198.0 505.3 195.8C505.5 193.6 505.5 189.7 505.5 189.7C505.5 189.7 505.0 187.6 504.2 187.5C503.5 187.4 502.2 188.2 500.8 189.3C499.4 190.4 497.7 192.2 496.0 194.1C494.3 196.1 492.3 198.6 490.6 200.9C488.9 203.3 487.2 205.8 485.8 208.2C484.3 210.7 482.9 213.1 481.9 215.5C480.8 217.9 480.3 220.4 479.4 222.8C478.6 225.3 477.9 227.7 477.0 230.2C476.1 232.6 475.2 235.1 474.1 237.5C472.9 239.9 471.3 243.0 470.3 244.8C469.2 246.6 468.4 247.9 467.8 248.5C467.3 249.2 467.2 248.6 467.0 248.5C466.9 248.4 466.4 248.4 466.7 247.8C466.9 247.1 467.7 246.4 468.7 244.6C469.6 242.8 471.2 239.7 472.2 237.2C473.2 234.8 473.9 232.4 474.6 229.9C475.3 227.5 475.9 224.8 476.5 222.7C477.0 220.6 478.1 217.3 478.1 217.3C478.1 217.3 475.5 217.2 473.8 217.5C472.0 217.9 469.8 218.5 467.8 219.4C465.8 220.3 463.6 221.6 461.7 223.0C459.9 224.4 458.3 226.2 456.9 227.8C455.5 229.4 454.2 231.2 453.1 232.6C452.1 234.0 451.1 235.7 450.5 236.3C449.9 237.0 449.9 236.4 449.7 236.3C449.5 236.2 449.2 236.0 449.3 235.6C449.4 235.1 449.6 235.0 450.3 233.6C451.1 232.2 452.5 229.4 453.9 227.4C455.3 225.3 457.0 223.1 458.8 221.2C460.7 219.4 462.8 217.7 465.0 216.3C467.3 214.9 470.1 214.1 472.4 213.1C474.6 212.1 476.7 211.7 478.4 210.2C480.1 208.7 481.1 206.4 482.7 204.2C484.4 202.0 486.4 199.3 488.1 196.9C489.8 194.4 491.4 191.8 493.0 189.5C494.5 187.3 496.4 185.5 497.4 183.5C498.4 181.5 498.8 179.5 499.0 177.5C499.3 175.5 499.4 173.4 499.0 171.5C498.6 169.6 497.7 167.7 496.7 166.2C495.6 164.7 494.0 163.1 492.6 162.4C491.3 161.7 489.9 161.7 488.5 162.0C487.0 162.3 485.6 163.9 484.1 164.4C482.7 164.9 481.0 165.4 479.7 164.9C478.4 164.4 477.6 162.8 476.4 161.4C475.2 160.0 473.8 158.1 472.3 156.5C470.8 154.9 468.9 153.4 467.4 151.6C465.9 149.9 464.6 147.6 463.2 146.0C461.8 144.4 460.4 142.7 458.9 141.9C457.4 141.1 455.7 140.9 454.3 141.2C452.8 141.5 451.4 142.4 450.0 143.6C448.6 144.8 447.4 146.7 445.9 148.4C444.4 150.2 442.6 152.2 441.0 154.0C439.5 155.9 437.8 158.0 436.8 159.3C435.7 160.6 435.3 161.3 434.9 161.8C434.4 162.2 434.3 161.9 434.1 161.8C433.9 161.7 433.4 162.2 433.6 161.1C433.9 160.1 434.5 157.4 435.7 155.4C436.8 153.4 438.9 151.3 440.5 149.2C442.1 147.2 443.7 145.1 445.4 143.1C447.0 141.1 448.6 138.7 450.3 137.4C452.0 136.2 453.5 135.6 455.4 135.6C457.3 135.6 459.8 136.4 461.7 137.4C463.6 138.3 465.0 139.8 466.7 141.4C468.3 142.9 469.9 145.1 471.5 146.7C473.2 148.4 474.8 149.8 476.4 151.1C478.0 152.4 479.9 153.6 481.3 154.5C482.6 155.4 483.6 156.5 484.7 156.4C485.8 156.3 486.8 155.5 487.6 154.1C488.4 152.8 488.9 150.6 489.3 148.1C489.7 145.7 490.0 142.3 490.0 139.7C490.0 137.0 489.3 134.6 489.3 132.3C489.3 130.1 490.2 128.4 490.0 126.3C489.8 124.2 488.8 122.0 488.0 119.7C487.1 117.5 485.8 115.0 484.9 112.7C484.1 110.3 483.6 107.8 482.9 105.6C482.3 103.4 481.8 101.2 480.9 99.6C480.1 98.1 479.3 97.2 478.0 96.3C476.7 95.5 474.8 95.0 473.1 94.4C471.4 93.8 469.3 93.5 468.0 92.7C466.7 91.9 466.3 91.1 465.4 89.6C464.6 88.1 463.9 85.6 462.8 83.5C461.7 81.5 460.0 79.5 458.8 77.5C457.6 75.6 456.3 73.3 455.5 72.0C454.8 70.7 454.5 70.1 454.3 69.5C454.2 69.0 454.4 68.9 454.6 68.8C454.7 68.6 454.7 68.3 455.3 68.5C455.9 68.8 457.2 69.2 458.2 70.1C459.3 71.1 460.4 72.6 461.4 74.1C462.5 75.6 463.4 77.3 464.5 79.2C465.5 81.0 466.3 83.7 467.4 85.2C468.6 86.7 469.9 87.3 471.3 88.1C472.8 88.9 474.8 89.2 476.3 89.7C477.8 90.2 479.3 90.9 480.3 91.2C481.3 91.6 482.3 91.8 482.3 91.8C482.3 91.8 482.0 87.7 481.6 85.4C481.3 83.2 480.5 80.6 479.9 78.4C479.3 76.3 478.6 74.1 477.9 72.4C477.2 70.8 476.8 69.6 475.9 68.5C475.1 67.3 474.1 66.7 473.0 65.5C471.8 64.4 470.3 63.0 468.9 61.5C467.6 60.0 466.1 58.0 464.9 56.4C463.6 54.8 462.3 53.0 461.6 51.9C460.8 50.8 460.6 50.3 460.5 49.9C460.3 49.4 460.4 49.3 460.6 49.1C460.7 48.9 460.7 48.6 461.3 48.7C461.9 48.8 463.1 48.7 464.3 49.6C465.5 50.5 467.1 52.4 468.4 54.0C469.7 55.6 471.0 57.6 472.1 59.0C473.1 60.4 474.0 61.8 474.7 62.5C475.5 63.2 476.6 63.3 476.6 63.3C476.6 63.3 476.4 61.8 476.0 60.3C475.6 58.8 475.0 56.3 474.3 54.3C473.6 52.3 472.6 50.3 471.9 48.3C471.1 46.3 470.3 44.1 469.8 42.2C469.4 40.4 469.2 38.6 469.0 37.1C468.7 35.7 468.2 34.2 468.2 33.5C468.1 32.8 468.5 33.0 468.7 32.9C468.9 32.8 469.1 32.4 469.5 33.0C469.9 33.7 470.7 35.5 471.4 37.0C472.0 38.5 472.8 40.5 473.5 42.0C474.2 43.4 474.9 44.9 475.4 45.6C475.8 46.3 476.2 46.2 476.2 46.2C476.2 46.2 475.8 44.5 475.6 43.2C475.4 41.8 475.1 40.0 474.9 38.2C474.6 36.3 474.3 33.7 474.0 32.1C473.7 30.5 473.3 29.2 473.2 28.5Z" fill="#04124a"/>
<path d="M473.2 28.5C473.2 27.8 473.5 28.0 473.7 27.9C474.0 27.8 473.9 27.0 474.5 28.0C475.1 29.0 476.6 31.8 477.4 34.0C478.3 36.2 479.1 38.7 479.6 41.1C480.0 43.4 480.2 45.8 480.2 48.2C480.2 50.5 479.6 52.9 479.6 55.2C479.6 57.5 479.7 60.0 480.2 62.2C480.7 64.3 481.7 66.0 482.6 68.2C483.5 70.3 484.8 72.9 485.6 75.2C486.4 77.6 487.1 79.8 487.6 82.3C488.1 84.8 488.5 87.7 488.6 90.4C488.8 93.1 488.4 95.8 488.6 98.4C488.9 101.1 489.4 103.8 490.2 106.4C491.1 109.1 492.2 111.9 493.6 114.4C495.0 116.9 497.0 119.4 498.6 121.4C500.3 123.4 501.9 125.8 503.5 126.3C505.1 126.8 506.6 125.5 508.2 124.3C509.8 123.2 512.0 121.0 513.2 119.4C514.3 117.8 515.0 116.4 515.1 114.5C515.2 112.7 514.0 110.9 513.7 108.6C513.4 106.2 513.0 103.2 513.1 100.5C513.2 97.8 513.4 95.1 514.1 92.3C514.8 89.6 516.1 86.8 517.1 84.3C518.1 81.7 519.3 79.7 520.2 77.2C521.0 74.7 521.7 71.9 522.1 69.2C522.5 66.6 522.5 63.9 522.5 61.2C522.5 58.6 522.4 55.7 522.1 53.2C521.9 50.7 521.5 48.4 521.1 46.2C520.7 44.0 520.1 42.2 519.7 40.2C519.4 38.2 519.1 35.8 519.1 34.1C519.2 32.4 519.6 30.8 519.9 30.0C520.2 29.2 520.5 29.4 520.8 29.3C521.1 29.1 521.3 28.9 521.5 28.9C521.7 28.9 521.9 28.7 522.2 29.3C522.5 29.8 522.8 30.6 523.1 32.0C523.4 33.5 523.6 36.1 523.8 38.1C524.1 40.1 524.4 42.8 524.7 44.1C525.0 45.4 525.5 45.8 525.5 45.8C525.5 45.8 526.6 42.8 527.3 41.0C528.1 39.3 529.3 37.1 529.9 35.0C530.6 32.9 531.1 29.7 531.4 28.5C531.8 27.4 532.0 28.2 532.2 28.3C532.4 28.3 532.8 28.0 532.8 28.8C532.8 29.6 532.7 31.2 532.4 33.1C532.0 35.0 531.5 37.7 530.9 40.2C530.3 42.7 529.5 45.6 528.9 48.2C528.3 50.9 527.7 53.8 527.3 56.3C526.8 58.8 526.6 61.1 526.3 63.3C526.0 65.5 525.5 69.3 525.5 69.3C525.5 69.3 527.3 67.3 528.4 66.1C529.5 64.9 531.1 63.4 532.3 62.0C533.5 60.7 535.0 59.7 535.9 58.1C536.7 56.4 537.0 54.4 537.4 52.2C537.7 49.9 537.7 46.1 537.9 44.8C538.1 43.5 538.4 44.4 538.6 44.4C538.8 44.4 539.0 43.9 539.3 44.7C539.6 45.5 540.0 47.4 540.2 49.1C540.4 50.9 540.1 53.8 540.5 55.1C541.0 56.4 542.5 56.2 542.9 57.1C543.3 58.0 543.4 59.6 542.9 60.4C542.4 61.3 541.0 61.5 539.8 62.2C538.6 62.8 537.1 63.3 535.8 64.5C534.5 65.7 533.2 67.8 531.8 69.5C530.5 71.2 529.0 72.7 527.8 74.5C526.7 76.3 525.8 78.3 524.8 80.5C523.8 82.7 522.7 85.2 521.8 87.5C520.9 89.9 519.9 92.0 519.2 94.5C518.5 97.0 518.0 100.0 517.8 102.5C517.6 105.0 517.7 107.8 517.8 109.5C517.9 111.2 517.5 112.2 518.3 112.7C519.0 113.2 520.9 112.9 522.4 112.6C524.0 112.4 525.9 112.0 527.4 111.2C528.8 110.5 530.2 109.6 531.3 108.3C532.4 107.0 533.2 105.2 533.8 103.4C534.5 101.6 534.8 99.6 535.2 97.4C535.7 95.2 536.0 92.5 536.6 90.3C537.3 88.1 538.2 86.0 539.3 84.2C540.4 82.4 541.9 81.2 543.4 79.7C544.9 78.2 546.9 76.7 548.4 75.1C549.9 73.5 551.1 71.9 552.4 70.1C553.7 68.3 555.1 65.9 556.4 64.1C557.8 62.2 559.6 60.2 560.6 59.1C561.6 58.0 562.0 57.9 562.4 57.6C562.9 57.4 563.0 57.6 563.2 57.7C563.4 57.8 563.8 57.6 563.6 58.4C563.4 59.2 562.7 60.7 561.9 62.3C561.2 64.0 560.2 66.5 559.0 68.5C557.9 70.4 556.4 72.4 555.0 74.1C553.5 75.9 552.0 77.4 550.5 79.0C549.0 80.6 547.3 82.2 545.9 83.6C544.4 85.1 542.8 86.1 541.9 87.6C541.0 89.1 540.7 90.8 540.5 92.5C540.4 94.1 540.6 95.9 540.9 97.4C541.3 98.8 541.9 100.1 542.9 101.3C543.9 102.4 545.3 103.5 546.8 104.2C548.2 104.8 550.2 105.3 551.6 105.2C553.1 105.0 554.5 103.9 555.6 103.3C556.7 102.8 557.5 102.1 558.0 101.8C558.6 101.6 558.6 101.8 558.8 102.0C559.0 102.1 559.1 102.3 559.1 102.7C559.2 103.1 559.7 103.3 559.3 104.2C558.9 105.0 558.0 106.8 556.9 107.8C555.8 108.7 554.5 109.6 552.7 109.9C551.0 110.1 548.4 109.7 546.6 109.3C544.7 108.8 542.8 107.5 541.5 107.3C540.3 107.0 539.6 107.2 538.8 107.8C538.0 108.4 537.8 109.6 536.8 110.8C535.8 111.9 534.3 113.7 532.8 114.8C531.3 116.0 529.1 116.9 527.7 117.9C526.4 118.9 525.6 119.5 524.8 120.8C524.1 122.1 523.7 123.7 523.2 125.7C522.7 127.7 522.2 130.1 521.8 132.7C521.4 135.4 520.7 139.8 520.8 141.7C520.9 143.7 521.7 143.2 522.4 144.4C523.1 145.5 524.0 147.6 525.3 148.7C526.5 149.8 528.2 150.4 530.0 151.1C531.8 151.7 533.9 152.3 536.1 152.7C538.3 153.1 541.1 153.5 543.4 153.5C545.6 153.5 547.6 153.3 549.4 152.8C551.2 152.2 552.7 151.4 554.1 150.4C555.5 149.4 556.6 148.1 557.7 146.8C558.9 145.4 559.9 143.5 560.9 142.4C562.0 141.2 562.7 140.2 564.0 139.8C565.4 139.4 567.3 139.8 569.0 139.8C570.7 139.8 572.8 139.8 573.9 139.9C575.0 140.1 575.2 140.6 575.6 140.9C575.9 141.2 576.0 141.4 576.0 141.6C576.0 141.8 576.2 142.0 575.7 142.3C575.1 142.6 574.0 143.3 572.7 143.5C571.4 143.7 569.3 143.2 567.9 143.7C566.5 144.1 565.4 144.8 564.4 146.0C563.4 147.2 562.8 149.4 562.0 150.8C561.2 152.3 559.4 153.8 559.6 154.7C559.8 155.7 561.9 155.6 563.1 156.5C564.3 157.4 566.0 158.8 566.9 160.2C567.7 161.7 568.1 163.6 568.1 165.3C568.1 167.0 567.5 169.2 566.9 170.3C566.2 171.5 565.1 172.8 564.4 172.1C563.6 171.5 563.3 168.2 562.6 166.7C561.9 165.2 561.2 164.1 560.2 163.1C559.2 162.1 558.0 161.3 556.6 160.7C555.3 160.1 553.9 159.7 551.9 159.5C549.9 159.3 547.0 159.5 544.6 159.5C542.2 159.6 539.7 159.8 537.3 160.0C534.8 160.2 532.2 160.4 530.0 160.8C527.8 161.1 525.5 161.2 524.0 161.9C522.5 162.7 521.9 163.9 520.9 165.5C519.9 167.1 518.8 169.3 518.0 171.5C517.2 173.7 516.6 176.4 516.1 178.8C515.6 181.2 515.2 183.6 515.1 186.1C515.0 188.5 515.7 191.4 515.6 193.4C515.5 195.4 514.9 197.1 514.3 198.0C513.7 198.8 512.7 197.6 511.9 198.5C511.0 199.4 510.4 201.1 509.5 203.3C508.6 205.5 507.5 208.8 506.3 211.8C505.2 214.9 503.7 218.0 502.6 221.5C501.4 224.9 500.3 228.8 499.4 232.5C498.4 236.1 497.6 239.8 496.9 243.5C496.3 247.1 496.0 251.0 495.7 254.5C495.4 257.9 495.2 261.0 495.2 264.2C495.3 267.5 495.5 269.7 496.2 274.0C496.9 278.3 498.3 285.1 499.3 290.0C500.4 294.9 501.3 298.6 502.7 303.3C504.1 308.1 505.8 313.3 507.7 318.3C509.6 323.3 511.9 328.6 514.0 333.3C516.1 338.1 518.3 342.2 520.0 346.7C521.7 351.1 523.2 355.8 524.3 360.0C525.4 364.2 526.0 367.8 526.7 371.7C527.3 375.6 527.6 379.8 528.3 383.3C529.1 386.9 531.0 393.0 531.0 393.0C531.0 393.0 527.0 394.7 527.0 394.7C527.0 394.7 524.9 388.6 524.0 385.0C523.1 381.4 522.3 377.2 521.7 373.3C521.0 369.4 520.9 365.8 520.0 361.7C519.1 357.5 517.7 353.1 516.0 348.3C514.3 343.6 512.1 338.3 510.0 333.3C507.9 328.3 505.3 323.3 503.3 318.3C501.4 313.3 499.7 308.1 498.3 303.3C496.9 298.6 495.9 294.9 495.0 290.0C494.1 285.1 493.3 277.9 492.8 274.0C492.3 270.1 492.2 269.5 492.1 266.7C491.9 263.8 491.9 260.6 492.1 256.9C492.3 253.2 492.7 248.8 493.3 244.7C493.9 240.6 494.8 236.3 495.7 232.5C496.6 228.6 497.7 225.0 498.7 221.5C499.6 218.0 500.6 214.7 501.5 211.6C502.4 208.5 503.3 205.7 503.9 203.1C504.6 200.5 505.0 198.0 505.3 195.8C505.5 193.6 505.5 189.7 505.5 189.7C505.5 189.7 505.0 187.6 504.2 187.5C503.5 187.4 502.2 188.2 500.8 189.3C499.4 190.4 497.7 192.2 496.0 194.1C494.3 196.1 492.3 198.6 490.6 200.9C488.9 203.3 487.2 205.8 485.8 208.2C484.3 210.7 482.9 213.1 481.9 215.5C480.8 217.9 480.3 220.4 479.4 222.8C478.6 225.3 477.9 227.7 477.0 230.2C476.1 232.6 475.2 235.1 474.1 237.5C472.9 239.9 471.3 243.0 470.3 244.8C469.2 246.6 468.4 247.9 467.8 248.5C467.3 249.2 467.2 248.6 467.0 248.5C466.9 248.4 466.4 248.4 466.7 247.8C466.9 247.1 467.7 246.4 468.7 244.6C469.6 242.8 471.2 239.7 472.2 237.2C473.2 234.8 473.9 232.4 474.6 229.9C475.3 227.5 475.9 224.8 476.5 222.7C477.0 220.6 478.1 217.3 478.1 217.3C478.1 217.3 475.5 217.2 473.8 217.5C472.0 217.9 469.8 218.5 467.8 219.4C465.8 220.3 463.6 221.6 461.7 223.0C459.9 224.4 458.3 226.2 456.9 227.8C455.5 229.4 454.2 231.2 453.1 232.6C452.1 234.0 451.1 235.7 450.5 236.3C449.9 237.0 449.9 236.4 449.7 236.3C449.5 236.2 449.2 236.0 449.3 235.6C449.4 235.1 449.6 235.0 450.3 233.6C451.1 232.2 452.5 229.4 453.9 227.4C455.3 225.3 457.0 223.1 458.8 221.2C460.7 219.4 462.8 217.7 465.0 216.3C467.3 214.9 470.1 214.1 472.4 213.1C474.6 212.1 476.7 211.7 478.4 210.2C480.1 208.7 481.1 206.4 482.7 204.2C484.4 202.0 486.4 199.3 488.1 196.9C489.8 194.4 491.4 191.8 493.0 189.5C494.5 187.3 496.4 185.5 497.4 183.5C498.4 181.5 498.8 179.5 499.0 177.5C499.3 175.5 499.4 173.4 499.0 171.5C498.6 169.6 497.7 167.7 496.7 166.2C495.6 164.7 494.0 163.1 492.6 162.4C491.3 161.7 489.9 161.7 488.5 162.0C487.0 162.3 485.6 163.9 484.1 164.4C482.7 164.9 481.0 165.4 479.7 164.9C478.4 164.4 477.6 162.8 476.4 161.4C475.2 160.0 473.8 158.1 472.3 156.5C470.8 154.9 468.9 153.4 467.4 151.6C465.9 149.9 464.6 147.6 463.2 146.0C461.8 144.4 460.4 142.7 458.9 141.9C457.4 141.1 455.7 140.9 454.3 141.2C452.8 141.5 451.4 142.4 450.0 143.6C448.6 144.8 447.4 146.7 445.9 148.4C444.4 150.2 442.6 152.2 441.0 154.0C439.5 155.9 437.8 158.0 436.8 159.3C435.7 160.6 435.3 161.3 434.9 161.8C434.4 162.2 434.3 161.9 434.1 161.8C433.9 161.7 433.4 162.2 433.6 161.1C433.9 160.1 434.5 157.4 435.7 155.4C436.8 153.4 438.9 151.3 440.5 149.2C442.1 147.2 443.7 145.1 445.4 143.1C447.0 141.1 448.6 138.7 450.3 137.4C452.0 136.2 453.5 135.6 455.4 135.6C457.3 135.6 459.8 136.4 461.7 137.4C463.6 138.3 465.0 139.8 466.7 141.4C468.3 142.9 469.9 145.1 471.5 146.7C473.2 148.4 474.8 149.8 476.4 151.1C478.0 152.4 479.9 153.6 481.3 154.5C482.6 155.4 483.6 156.5 484.7 156.4C485.8 156.3 486.8 155.5 487.6 154.1C488.4 152.8 488.9 150.6 489.3 148.1C489.7 145.7 490.0 142.3 490.0 139.7C490.0 137.0 489.3 134.6 489.3 132.3C489.3 130.1 490.2 128.4 490.0 126.3C489.8 124.2 488.8 122.0 488.0 119.7C487.1 117.5 485.8 115.0 484.9 112.7C484.1 110.3 483.6 107.8 482.9 105.6C482.3 103.4 481.8 101.2 480.9 99.6C480.1 98.1 479.3 97.2 478.0 96.3C476.7 95.5 474.8 95.0 473.1 94.4C471.4 93.8 469.3 93.5 468.0 92.7C466.7 91.9 466.3 91.1 465.4 89.6C464.6 88.1 463.9 85.6 462.8 83.5C461.7 81.5 460.0 79.5 458.8 77.5C457.6 75.6 456.3 73.3 455.5 72.0C454.8 70.7 454.5 70.1 454.3 69.5C454.2 69.0 454.4 68.9 454.6 68.8C454.7 68.6 454.7 68.3 455.3 68.5C455.9 68.8 457.2 69.2 458.2 70.1C459.3 71.1 460.4 72.6 461.4 74.1C462.5 75.6 463.4 77.3 464.5 79.2C465.5 81.0 466.3 83.7 467.4 85.2C468.6 86.7 469.9 87.3 471.3 88.1C472.8 88.9 474.8 89.2 476.3 89.7C477.8 90.2 479.3 90.9 480.3 91.2C481.3 91.6 482.3 91.8 482.3 91.8C482.3 91.8 482.0 87.7 481.6 85.4C481.3 83.2 480.5 80.6 479.9 78.4C479.3 76.3 478.6 74.1 477.9 72.4C477.2 70.8 476.8 69.6 475.9 68.5C475.1 67.3 474.1 66.7 473.0 65.5C471.8 64.4 470.3 63.0 468.9 61.5C467.6 60.0 466.1 58.0 464.9 56.4C463.6 54.8 462.3 53.0 461.6 51.9C460.8 50.8 460.6 50.3 460.5 49.9C460.3 49.4 460.4 49.3 460.6 49.1C460.7 48.9 460.7 48.6 461.3 48.7C461.9 48.8 463.1 48.7 464.3 49.6C465.5 50.5 467.1 52.4 468.4 54.0C469.7 55.6 471.0 57.6 472.1 59.0C473.1 60.4 474.0 61.8 474.7 62.5C475.5 63.2 476.6 63.3 476.6 63.3C476.6 63.3 476.4 61.8 476.0 60.3C475.6 58.8 475.0 56.3 474.3 54.3C473.6 52.3 472.6 50.3 471.9 48.3C471.1 46.3 470.3 44.1 469.8 42.2C469.4 40.4 469.2 38.6 469.0 37.1C468.7 35.7 468.2 34.2 468.2 33.5C468.1 32.8 468.5 33.0 468.7 32.9C468.9 32.8 469.1 32.4 469.5 33.0C469.9 33.7 470.7 35.5 471.4 37.0C472.0 38.5 472.8 40.5 473.5 42.0C474.2 43.4 474.9 44.9 475.4 45.6C475.8 46.3 476.2 46.2 476.2 46.2C476.2 46.2 475.8 44.5 475.6 43.2C475.4 41.8 475.1 40.0 474.9 38.2C474.6 36.3 474.3 33.7 474.0 32.1C473.7 30.5 473.3 29.2 473.2 28.5Z" fill="#1b63d9" stroke="#04124a" stroke-width="1.40" stroke-linejoin="round" transform="translate(-0.15 -0.20)" filter="url(#grain)"/>
</g>
<path d="M509.6 137.6 C513.2 137.6 515.2 143 515.6 149.5 C516 156.5 513.8 161.6 510.4 161.6 C506.6 161.6 504.2 156.5 504.3 149.6 C504.4 143 506.2 137.6 509.6 137.6 Z" fill="url(#nucR)" transform="translate(509.9 149.8) rotate(5) scale(1.16 1.12) translate(-509.9 -149.6)"/>
<circle cx="507.9" cy="148.7" r="1.1" fill="#173a8c"/>
<line x1="289.0" y1="103.2" x2="249.2" y2="120.8" stroke="#21417f" stroke-width="1.25"/><path d="M242.8 123.6 L249.1 118.0 L251.2 122.7 Z" fill="#21417f"/>
<line x1="401.5" y1="103.0" x2="447.4" y2="115.6" stroke="#21417f" stroke-width="1.25"/><path d="M454.2 117.4 L445.8 117.8 L447.2 112.8 Z" fill="#21417f"/>
<line x1="305.1" y1="286.7" x2="197.3" y2="309.4" stroke="#21417f" stroke-width="1.25"/><path d="M190.4 310.8 L197.7 306.6 L198.8 311.7 Z" fill="#21417f"/>
<line x1="366.1" y1="286.5" x2="486.1" y2="299.0" stroke="#21417f" stroke-width="1.25"/><path d="M493.1 299.7 L484.9 301.5 L485.4 296.3 Z" fill="#21417f"/>
<text x="339.8" y="25.5" font-size="23.0" fill="#183f8e" text-anchor="middle">Motoneuron</text>
<text x="342.2" y="106.3" font-size="21.6" fill="#183f8e" text-anchor="middle" textLength="95.2" lengthAdjust="spacingAndGlyphs">Cell body</text>
<text x="335.3" y="291.7" font-size="22.4" fill="#183f8e" text-anchor="middle" textLength="52.6" lengthAdjust="spacingAndGlyphs">Axon</text>
<text x="299.4" y="474.4" font-size="23.0" fill="#b01c24" text-anchor="middle">muscle</text>
<text x="616.7" y="432.8" font-size="23.0" fill="#b01c24" text-anchor="middle">atrophied</text>
<text x="617.0" y="460.6" font-size="23.0" fill="#b01c24" text-anchor="middle">muscle</text>
<text x="193.0" y="559.4" font-size="23.0" fill="#000" text-anchor="middle">Normal nerve cell</text>
<text x="193.2" y="586.9" font-size="23.0" fill="#000" text-anchor="middle">and muscle</text>
<text x="555.0" y="559.4" font-size="23.0" fill="#000" text-anchor="middle">ALS-affected nerve</text>
<text x="554.7" y="586.9" font-size="23.0" fill="#000" text-anchor="middle">cell and muscle</text>
</svg>
</body></html>
